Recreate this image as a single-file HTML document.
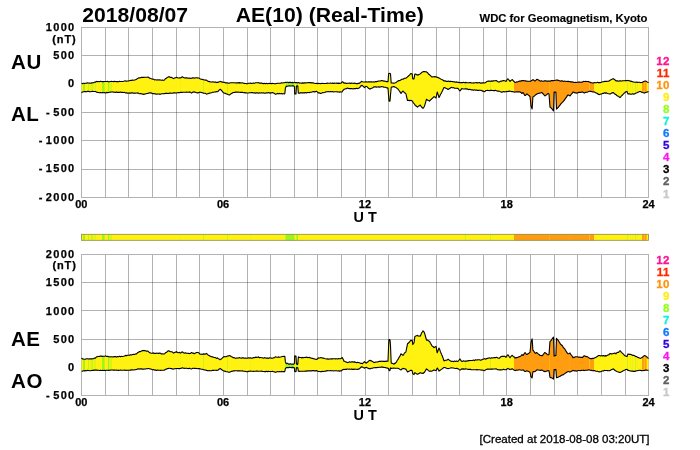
<!DOCTYPE html>
<html><head><meta charset="utf-8"><title>AE(10) (Real-Time) 2018/08/07</title>
<style>html,body{margin:0;padding:0;background:#fff}svg{display:block}</style></head>
<body>
<svg width="700" height="450" viewBox="0 0 700 450" font-family="'Liberation Sans', Arial, Helvetica, sans-serif" font-weight="bold">
<rect width="700" height="450" fill="#fff"/>
<defs>
<clipPath id="ct"><path d="M81.5,83.3 82.5,83.6 83.5,83.3 84,83.3 84.5,83.5 85.5,83.2 86.5,83.1 87.5,82.8 88,83 88.5,83 89.5,83.1 90.5,83.2 91.5,82.9 92,83 92.5,82.7 93.5,82.8 94.5,82.1 95,82.1 95.5,82.2 96.5,81.4 97,81.5 97.5,81.8 98,81.5 98.5,81.5 99.5,81.7 100.5,81.3 101.5,81.5 102.5,81.6 103.5,81.6 104.5,81.5 105,81.5 105.5,81.5 106,81.5 106.5,81.5 107.5,81.4 108.5,81.7 109.5,81.7 110,81.5 110.5,81.5 111.5,81.4 112.5,81.5 113,81.5 113.5,81.6 114.5,81.4 115.5,81.5 116.5,81.6 117.5,81.5 118.5,81.7 119.5,81.3 120,81.5 120.5,81.5 121.5,81.5 122,81.5 122.5,81.5 123.5,81.3 124.5,81 125.5,80.9 126.5,81.2 127.5,81 128.5,81 129,80.8 129.5,80.8 130,80.6 130.5,80.4 131.5,80.4 132.5,80 133.5,80.2 134.5,80 135.5,79.8 136,79.5 136.5,79.4 137.5,78.4 138.5,78 139,77.8 139.5,77.9 140.5,77.7 141.5,77.4 142.5,77.4 143,77.5 143.5,77.3 144,77.4 144.5,77.3 145.5,77.2 146.5,77.3 147.5,77.2 148,77 148.5,77.3 149.5,78.1 150,78.2 150.5,78.5 151.5,78.8 152.5,79.2 153.5,79.1 154.5,79.9 155,79.8 155.5,79.8 156.5,80 157,79.9 157.5,79.7 158.5,80 159.5,79.8 160.5,80 161.5,80.3 162.5,80.1 163.5,80.2 164,80.2 164.5,80 165,79.3 165.5,78.6 166,78.5 166.5,78.1 167.5,77.3 168.5,76.9 169,76.5 169.5,76.9 170.5,77.4 171.5,77.4 172.5,77.9 173.5,78.6 174.5,78 175.5,77.7 176,77.7 176.5,77.3 177.5,77.8 178.5,78 179.5,77.7 180,78 180.5,77.9 181.5,77.4 182,76.8 182.5,76.8 183.5,77.6 184.5,78 185.5,77.7 186.5,77.9 187.5,78.1 188.5,78.3 189.5,78 190,78.2 190.5,78.4 191.5,78.2 192.5,77.9 193.5,77.9 194,78.1 194.5,78.3 195.5,77.8 196.5,77.8 197.5,77.9 198,78 198.5,78 199.5,78.3 200,78.8 200.5,79 201.5,79.3 202,79.5 202.5,79.4 203.5,79.7 204.5,80 205.5,80.1 206.5,80.1 207,80.5 207.5,80.9 208.5,81.4 209.5,81.6 210,81.8 210.5,82 211.5,82 212,82 212.5,81.8 213.5,82 214.5,82.1 215.5,82.1 216.5,82.6 217.5,82.2 218,82.5 218.5,82 219.5,81.7 220,81.5 220.5,81.4 221.5,81.9 222.5,82.1 223.5,82.3 224,82.5 224.5,82.4 225.5,82.7 226,83 226.5,82.9 227.5,82.8 228.5,83.2 229.5,83.1 230.5,82.7 231.5,82.8 232.5,82.7 233,82.8 233.5,82.7 234.5,82.8 235.5,83 236.5,82.7 237.5,82.9 238,82.8 238.5,82.9 239.5,82.6 240.5,82.9 241.5,83 242,82.8 242.5,82.8 243.5,83.2 244.5,83.4 245.5,83.5 246,83.5 246.5,83.7 247.5,83.7 248.5,83.3 249.5,83.3 250.5,83 251.5,83.5 252.5,83.3 253.5,83.1 254.5,83.2 255.5,82.8 256.5,82.8 257.5,82.7 258,82.8 258.5,82.6 259.5,83.2 260,83 260.5,83.1 261.5,83 262.5,83.4 263.5,83.6 264,83.5 264.5,83.4 265.5,83.7 266.5,83.3 267.5,83.7 268.5,83.5 269.5,83.4 270.5,83.5 271.5,83.6 272.5,83.4 273,83.5 273.5,83.5 274.5,83.7 275.5,83.7 276,83.5 276.5,83.5 277.5,83.3 278,83.3 278.5,83.3 279.5,83.2 280.5,83.3 281.5,82.8 282.5,83 283.5,82.7 284,82.8 284.5,82.8 284.8,82.6 285,82.5 285.4,82.5 285.5,82.4 286.3,82.5 286.5,82.3 287.5,82.2 288.5,82.6 289.5,82.4 290.5,82.4 291.5,82.7 292.5,82.4 293.5,82.7 294.4,82.5 294.5,82.4 294.7,82.5 295,82.5 295.5,82.8 296,82.6 296.4,82.6 296.5,82.5 297.5,82.9 297.8,82.7 298.3,82.8 298.5,82.6 299.5,83.1 300.5,83 301,83 301.5,83.2 302.5,82.9 303.5,83.1 304.5,82.9 305.5,82.7 306,82.9 306.5,82.7 307.5,82.7 308.5,82.6 309.5,82.6 310,82.8 310.5,82.6 311.5,82.9 312.5,82.8 313.5,82.9 314.5,83.3 315.5,83.5 316.5,83.4 317,83.4 317.5,83.7 318,83.5 318.5,83.4 319.5,83.5 320.5,83.7 321,83.4 321.5,83.5 322.5,83.3 323.5,83.5 324.5,83.5 325.5,83.5 326.5,83.4 327.5,83 328,83.2 328.5,83.2 329.5,83.2 330,83.2 330.5,83.1 331.5,83.3 332.5,83.1 333.5,83.4 334.5,83 335.5,83.2 336,83.2 336.5,83 337.5,83.4 338.5,83.1 339.5,83.4 340.5,83.2 341,83.2 341.5,82.8 342,82.1 342.5,81.7 343.5,82.4 344,83.2 344.5,83 345.5,83.1 346.5,83.5 347,83.2 347.5,83.3 348.5,83.3 349.5,83 350,83.2 350.5,83.4 351.5,83.1 352.5,83.3 353,83.3 353.5,83.5 354.5,83.1 355.5,83.4 356.5,83.6 357.5,83.6 358.5,83.3 359,83.5 359.5,83 360.5,82.5 361,81.9 361.5,81.3 362.5,81.8 363.5,82 364.5,82 365,82 365.5,81.9 366,82 366.5,81.8 367.5,82 368.5,81.9 369.5,81.9 370,82 370.5,81.9 371.5,81.7 372.5,82 373.5,81.9 374,82 374.5,82.1 375.5,81.5 376.5,81.6 377.5,81.4 378.5,81 379.5,81 380.5,81 381.5,80.5 382,80.5 382.5,80.8 383,80.7 383.5,81.1 384.5,81.1 385.5,81.3 386.5,81.6 387.5,81.6 388,81.8 388.5,75.7 388.7,73.5 389,73.5 389.5,73.4 390,73.5 390.5,73.7 391.2,83 391.5,83 392.5,83 393.5,83.1 394,83.2 394.5,83 395.5,82.8 396.5,82.2 397.5,81.2 398,81.1 398.5,80.8 399,80.5 399.5,80.6 400.5,80.2 401,79.8 401.5,79.4 402.5,79.2 403,79.1 403.5,79 404.5,78.3 405.5,78.3 406,78 406.5,77.8 407.5,76.9 408.5,76 409.5,75.1 410.5,73.7 411,73.5 411.5,73.6 412,73.9 412.2,74 412.5,76.8 412.8,79 413.5,78.9 414,79 414.5,76.1 414.8,74 415,74.1 415.5,74.1 416.5,74.6 417.5,74.9 418,75.2 418.5,74.7 419.5,74.2 420,73.9 420.5,73.7 421.5,72.6 422.5,72 423,71.8 423.5,71.6 424.5,71.6 425.5,71.7 426.5,71.9 427.5,72.7 428.5,74 429.5,74.8 430.5,75.6 431.5,76.7 432,77 432.5,76.9 433.5,76.7 434,76.7 434.5,76.9 435,76.5 435.5,76.9 436,76.9 436.5,77.1 437.2,77.4 437.5,77.3 438.5,77.8 439,78.1 439.5,78.2 440,78.5 440.5,78.9 441.5,79.5 442.5,79.8 443.5,80.5 444,81 444.5,80.8 445.5,80.9 446.5,81.4 447.5,81.4 448,81.2 448.5,81.1 449.5,81.6 450.5,81.4 451,81.4 451.5,81.5 452,81.5 452.5,81.6 453.5,81.8 454.5,81.9 455.5,82.2 456.5,81.9 457.5,82.3 458,82.4 458.5,82.2 459,82.5 459.5,82.6 460,82.5 460.5,82.8 461.5,82.5 462,82.6 462.5,82.8 463.5,82.3 464.5,82.8 465.5,82.4 466.5,82.6 467.5,82.7 468.5,82.7 469,82.7 469.5,82.6 470.5,82.6 471.5,83 472.5,83 473.5,82.8 474.5,83 475,82.8 475.5,82.7 476.5,82.6 477.5,82.9 478.5,82.7 479.5,82.5 480.5,83.1 481.5,83.1 482,82.8 482.5,82.9 483.5,82.9 484.5,83 485,82.8 485.5,82.5 486,82.2 486.5,81.7 487,81.5 487.5,81.3 488.5,81.1 489.5,81.1 490.5,81.3 491.5,80.9 492.5,81.1 493.5,80.9 494.5,80.8 495.5,80.8 496,80.5 496.5,80.6 497.5,81.5 498.5,82 499,82 499.5,82 500.5,81.3 501.5,81 502,81.1 502.5,80.8 503.5,80.6 504,80.5 504.5,80.7 505.5,81 506,81.5 506.5,80.5 507.5,79.2 508,78.8 508.5,79.5 509.5,80.7 510,81.5 510.5,80.8 511.5,80.1 512,79.5 512.5,79.8 513.5,81 514,81.5 514.5,81.9 515,82.5 515.5,82.5 516.5,81.9 517.5,82 518.5,81.4 519.5,81 520,81.1 520.5,81.1 521.5,80.9 522,80.5 522.5,80.7 523,80.6 523.5,80.6 524.5,80.8 525,80.9 525.5,80.8 526,81 526.5,81.2 527,81.1 527.5,81.2 528.5,81.3 529.5,81.3 530,81.5 530.5,81.3 531,80.9 531.5,80.5 532.1,80.3 532.5,79.8 532.9,79.9 533,79.8 533.5,79.9 534.5,80.7 535,81 535.5,80.8 536.5,79.5 537,79.3 537.5,79.6 538.5,80.1 539.5,80.6 540,81 540.5,81.1 541.5,80.8 542,81 542.5,81.2 543.5,81.2 544.5,80.7 545,81 545.5,80.7 546.5,81.1 547.5,81.1 548,81 548.5,81.1 549,81 549.5,81.1 550,81 550.5,81.1 551.5,80.6 552.5,80.6 553.5,80.7 554,80.5 554.1,80.5 554.5,80.5 555.5,80.3 555.9,80.1 556.5,80 557.5,80.1 558.5,80.4 559.5,80.8 560,81 560.5,81.1 561.5,80.8 562.5,80.9 563.5,81.4 564,81.2 564.5,81.1 565.5,81.2 566.5,81.5 567.5,81.4 568,81.4 568.5,81.4 569.5,81.7 570,81.5 570.5,81.9 571.5,81.9 572.5,81.9 573,82.2 573.5,82.1 574,82.5 574.5,82.5 575.5,82.3 576,82.4 576.5,82.5 577.5,82.2 578.5,82.1 579.5,82 580.5,82.3 581,82.2 581.5,82.1 582,82 582.5,82.1 583.5,81.4 584,81.5 584.5,81.5 585.5,81.4 586.5,81.5 587.5,81.5 588,81.5 588.5,81.6 589.5,82.1 590,82.4 590.5,82.4 591,82.8 591.5,82.7 592.5,83 593.5,82.9 594,82.7 594.5,82.5 595.5,82.8 596.5,82.7 597.5,82.3 598.5,82.6 599,82.5 599.5,82.7 600,82.5 600.5,82.6 601.5,82.2 602,82 602.5,81.8 603.5,81.7 604.5,81.4 605,81.6 605.5,81.3 606.5,81.4 607.5,81.2 608.5,81.2 609,81 609.5,80.5 610,80.4 610.5,79.9 611.5,79.5 612.5,79.1 613,78.8 613.5,78.8 614.5,79.5 615.5,80.4 616,81 616.5,80.8 617.5,80.9 618.5,81.2 619.5,80.9 620,81 620.5,80.8 621.5,81 622,81 622.5,80.8 623.5,80.8 624.5,80.8 625,80.8 625.5,80.5 626.5,80.6 627,80.6 627.5,80.4 628,80.5 628.5,80.5 629.5,80.9 630.5,81.1 631.5,81.4 632.5,81.7 633.5,82 634,82 634.5,82.2 635.5,82.3 636.5,82.1 637.5,82.4 638.5,82.3 639.5,82.2 640,82.4 640.5,82.6 641.5,82.5 642,82.5 642.5,82.3 643.5,81.5 644,81.5 644.5,81.3 645,81 645.5,81 646.5,81.4 647.5,82.1 648.5,82.7 L648.5,91.5 647.5,91.9 646.5,92.2 645.5,92.5 645,92.7 644.5,93.1 644,93 643.5,92.8 642.5,92.5 642,92.2 641.5,92.1 640.5,91.6 640,91.5 639.5,91.5 638.5,92.1 637.5,92.5 636.5,93 635.5,93.2 634.5,94 634,94 633.5,94.1 632.5,93.8 631.5,94.2 630.5,94.2 629.5,93.9 628.5,93.8 628,94 627.5,92.8 627,91.5 626.5,91.6 625.5,92 625,92.5 624.5,92.9 623.5,93.9 622.5,95 622,95.5 621.5,95.8 620.5,97.2 620,97.5 619.5,97.3 618.5,96.2 617.5,96 616.5,95.3 616,94.6 615.5,94.5 614.5,93.8 613.5,92.7 613,92.5 612.5,92.9 611.5,93.1 610.5,93.9 610,94 609.5,94 609,93.8 608.5,93.8 607.5,93.4 606.5,92.9 605.5,93.2 605,92.8 604.5,92.8 603.5,93.5 602.5,93.4 602,93.7 601.5,93.9 600.5,94.2 600,94.2 599.5,94.6 599,94.5 598.5,94.5 597.5,93.5 596.5,93.1 595.5,92.8 594.5,92 594,92 593.5,91.8 592.5,92 591.5,91.5 591,91.4 590.5,91.5 590,91.2 589.5,91.2 588.5,91.6 588,91.9 587.5,92.1 586.5,92.3 585.5,92.4 584.5,93.1 584,92.8 583.5,92.7 582.5,91.9 582,92 581.5,92.3 581,92.2 580.5,92.4 579.5,92.4 578.5,92.4 577.5,92.9 576.5,93.1 576,93 575.5,92.9 574.5,92.7 574,92.3 573.5,92.3 573,92 572.5,92.9 571.5,94 570.5,95.3 570,96 569.5,95.6 568.5,95 568,95 567.5,95.4 566.5,97.1 565.5,98.4 564.5,100 564,100.5 563.5,101.2 562.5,102.3 561.5,103.2 560.5,104.4 560,105.2 559.5,105.6 558.5,107.1 557.5,108.1 556.5,109.1 555.9,92 555.5,92.2 554.5,92 554.1,92 554,95.2 553.5,111 552.5,109.6 551.5,108.2 550.5,107.5 550,107 549.5,100.4 549,94 548.5,93.7 548,93.5 547.5,93.9 546.5,94.9 545.5,95.3 545,96 544.5,95.4 543.5,94.4 542.5,93.1 542,92.5 541.5,92.6 540.5,93 540,93 539.5,93.3 538.5,93.4 537.5,93.7 537,93.8 536.5,94.4 535.5,94.8 535,95.4 534.5,96 533.5,96.6 533,96.9 532.9,97 532.5,103.2 532.1,109 531.5,107.3 531,106 530.5,101 530,96.5 529.5,96 528.5,95.1 527.5,94.5 527,94 526.5,94.1 526,94.8 525.5,95.4 525,95.5 524.5,95 523.5,93.1 523,92.5 522.5,92.9 522,93.5 521.5,93 520.5,92.3 520,92 519.5,91.8 518.5,91.9 517.5,91.9 516.5,91.7 515.5,92 515,92 514.5,92.2 514,92 513.5,91.7 512.5,91.5 512,91.6 511.5,91.6 510.5,91.2 510,91.2 509.5,91.1 508.5,91.4 508,91.4 507.5,91.6 506.5,91.4 506,91.6 505.5,91.7 504.5,91.9 504,91.8 503.5,91.6 502.5,92.1 502,92 501.5,92.1 500.5,91.8 499.5,91.2 499,91.2 498.5,91.1 497.5,91.1 496.5,90.8 496,90.5 495.5,90.4 494.5,90.6 493.5,90.6 492.5,90.5 491.5,90.4 490.5,90.4 489.5,90.7 488.5,90.5 487.5,90.3 487,90.5 486.5,90.5 486,90.5 485.5,90.8 485,91.5 484.5,91.8 483.5,91.1 482.5,91.1 482,90.5 481.5,90.6 480.5,90.3 479.5,90.2 478.5,90.4 477.5,90.4 476.5,90 475.5,90.3 475,90.1 474.5,89.8 473.5,90.2 472.5,89.9 471.5,89.9 470.5,89.5 469.5,89.4 469,89.5 468.5,89.6 467.5,89.1 466.5,88.9 465.5,88.8 464.5,89 463.5,89 462.5,88.8 462,88.5 461.5,88.9 460.5,90.4 460,91 459.5,90.4 459,89.8 458.5,88.9 458,88.5 457.5,88.4 456.5,88.3 455.5,88.2 454.5,88.2 453.5,87.6 452.5,87.7 452,87.6 451.5,87.4 451,87.5 450.5,88 449.5,88.5 448.5,89.3 448,89.5 447.5,89 446.5,88.6 445.5,88 444.5,87.6 444,87.5 443.5,88.5 442.5,90.7 441.5,92.7 440.5,94.5 440,95.5 439.5,96.7 439,97.5 438.5,95.9 437.5,92.7 437.2,92 436.5,95.7 436,98 435.5,97.5 435,97.2 434.5,96.9 434,96.5 433.5,97.1 432.5,98.2 432,98.5 431.5,99.2 430.5,99.9 429.5,101.1 428.5,100.6 427.5,100 426.5,99.2 425.5,102.6 424.5,106.2 423.5,107.8 423,108.5 422.5,107.8 421.5,107 420.5,105.5 420,105 419.5,105.7 418.5,106.1 418,106.6 417.5,107.1 416.5,106.3 415.5,105.5 415,105 414.8,104.7 414.5,104 414,103.6 413.5,103 412.8,101.8 412.5,101.7 412.2,101 412,100.7 411.5,100.4 411,100.6 410.5,100.4 409.5,100.6 408.5,100.4 407.5,100.5 406.5,96.3 406,94 405.5,93.3 404.5,92.7 403.5,91.7 403,91 402.5,91.7 401.5,92.7 401,93.5 400.5,92.6 399.5,91.1 399,90.5 398.5,89.7 398,89 397.5,88.8 396.5,87.9 395.5,87.2 394.5,87 394,86.5 393.5,86.5 392.5,87 391.5,87.1 391.2,87.5 390.5,95.3 390,101 389.5,101.3 389,101 388.7,97.1 388.5,94.6 388,88 387.5,87.9 386.5,87.9 385.5,87.3 384.5,87.3 383.5,87.1 383,86.8 382.5,86.8 382,86.8 381.5,86.6 380.5,87 379.5,87.1 378.5,86.9 377.5,87 376.5,87.1 375.5,86.9 374.5,86.9 374,87 373.5,87.1 372.5,88 371.5,88.3 370.5,88.7 370,89.2 369.5,88.9 368.5,88.3 367.5,87.1 366.5,86.4 366,86.2 365.5,86.7 365,87.1 364.5,87.7 363.5,86.6 362.5,85.6 361.5,85.4 361,85.8 360.5,86.6 359.5,87.7 359,88.2 358.5,88.2 357.5,88.6 356.5,88.3 355.5,88.6 354.5,88.6 353.5,88.7 353,89 352.5,88.8 351.5,88.6 350.5,88.5 350,88.7 349.5,88.6 348.5,88.5 347.5,88.1 347,88.3 346.5,88.7 345.5,88.7 344.5,89.2 344,89.3 343.5,89.8 342.5,91.1 342,92 341.5,92 341,92 340.5,91.8 339.5,92.1 338.5,92 337.5,91.9 336.5,91.8 336,91.8 335.5,91.7 334.5,91.8 333.5,92 332.5,91.6 331.5,91.8 330.5,91.5 330,91.6 329.5,91.7 328.5,91.6 328,91.5 327.5,91.7 326.5,91.8 325.5,92.1 324.5,92.5 323.5,92.8 322.5,92.6 321.5,93.2 321,93.2 320.5,93.4 319.5,92.9 318.5,93 318,92.5 317.5,92.1 317,91.5 316.5,91.3 315.5,91.6 314.5,91.9 313.5,91.6 312.5,91.8 311.5,92.2 310.5,92.2 310,92.3 309.5,92.6 308.5,92.5 307.5,92.5 306.5,93 306,92.8 305.5,92.6 304.5,92.9 303.5,92.8 302.5,92.9 301.5,92.7 301,92.9 300.5,92.9 299.5,93.1 298.5,93.1 298.3,93 297.8,86 297.5,85.8 296.5,86.2 296.4,86 296,94 295.5,93.8 295,94 294.7,94 294.5,88.8 294.4,86.5 293.5,85.9 292.5,85.7 291.5,86 290.5,86 289.5,85.8 288.5,86 287.5,86.3 286.5,86.4 286.3,86.2 285.5,87.7 285.4,88 285,91.9 284.8,93.8 284.5,93.9 284,93.8 283.5,93.7 282.5,93.9 281.5,93.5 280.5,93.8 279.5,93.4 278.5,93.8 278,93.5 277.5,93.4 276.5,93.9 276,94.1 275.5,94.4 274.5,93.6 273.5,93.1 273,92.8 272.5,92.5 271.5,92.9 270.5,92.9 269.5,93.1 268.5,92.6 267.5,93 266.5,92.7 265.5,93.1 264.5,93.2 264,92.9 263.5,92.8 262.5,93 261.5,92.7 260.5,93 260,93 259.5,92.8 258.5,93.3 258,93 257.5,92.9 256.5,92.8 255.5,93.1 254.5,92.9 253.5,93 252.5,92.6 251.5,92.6 250.5,92.7 249.5,92.7 248.5,93 247.5,93 246.5,93 246,92.8 245.5,92.9 244.5,92.6 243.5,92.7 242.5,92.3 242,92.4 241.5,92.3 240.5,92.4 239.5,92.3 238.5,92.3 238,92 237.5,92.3 236.5,92.1 235.5,92 234.5,92.4 233.5,92.5 233,92.5 232.5,93.1 231.5,93.5 230.5,94.1 229.5,95 228.5,94.7 227.5,94.2 226.5,93.9 226,93.7 225.5,93.4 224.5,93.2 224,93 223.5,92.8 222.5,91.6 221.5,90.4 220.5,89.5 220,89.2 219.5,89.9 218.5,90.7 218,91.5 217.5,91.7 216.5,91.6 215.5,91.9 214.5,92 213.5,92.2 212.5,92.2 212,92.5 211.5,92.8 210.5,93 210,93.1 209.5,93.1 208.5,93.6 207.5,93.7 207,94 206.5,94.1 205.5,93.4 204.5,93.3 203.5,93.2 202.5,92.7 202,92.6 201.5,92.5 200.5,92.3 200,92 199.5,92.3 198.5,92.6 198,93 197.5,92.9 196.5,92.7 195.5,92.2 194.5,92.1 194,91.8 193.5,92.1 192.5,92.3 191.5,93.1 190.5,92.4 190,92 189.5,91.9 188.5,92.3 187.5,92.3 186.5,92 185.5,92.3 184.5,92.2 183.5,92.3 182.5,92.2 182,92.5 181.5,92.4 180.5,92.3 180,92.6 179.5,92.8 178.5,92.6 177.5,92.7 176.5,93 176,92.8 175.5,93 174.5,92.9 173.5,92.9 172.5,93.2 171.5,93.2 170.5,93 169.5,93.1 169,93.2 168.5,93.5 167.5,93.4 166.5,93.2 166,93.4 165.5,93.3 165,93.5 164.5,93.6 164,93.6 163.5,93.7 162.5,93.7 161.5,93.7 160.5,94.2 159.5,94.1 158.5,94 157.5,94 157,94.2 156.5,94.1 155.5,93.8 155,93.9 154.5,93.8 153.5,93.6 152.5,93.6 151.5,93.1 150.5,92.9 150,93 149.5,92.8 148.5,93.1 148,93.4 147.5,93.5 146.5,93.5 145.5,94 144.5,94.1 144,94.2 143.5,94.4 143,94 142.5,94.2 141.5,93.8 140.5,93.5 139.5,93.7 139,93.5 138.5,93.1 137.5,93.1 136.5,93 136,93 135.5,93.2 134.5,93 133.5,93.2 132.5,92.9 131.5,92.9 130.5,93.1 130,93 129.5,93.2 129,92.9 128.5,93.1 127.5,93.1 126.5,92.9 125.5,93 124.5,92.4 123.5,92.5 122.5,92.4 122,92.4 121.5,92.5 120.5,92.1 120,92.3 119.5,92.4 118.5,92.4 117.5,92.4 116.5,91.9 115.5,92.4 114.5,92.2 113.5,92 113,92.1 112.5,91.9 111.5,92 110.5,92.3 110,92 109.5,92.3 108.5,92.5 107.5,92.6 106.5,92.4 106,92.8 105.5,93 105,92.8 104.5,92.6 103.5,92.8 102.5,92.6 101.5,92.8 100.5,92.6 99.5,92.8 98.5,92.5 98,92.5 97.5,92.4 97,92.2 96.5,92.1 95.5,91.5 95,91.5 94.5,91.5 93.5,91.5 92.5,91.3 92,91.5 91.5,91.5 90.5,91.7 89.5,91.6 88.5,91.4 88,91.5 87.5,91.4 86.5,91.7 85.5,91.5 84.5,91.7 84,91.5 83.5,91.7 82.5,92 81.5,92.7Z"/></clipPath>
<clipPath id="cb"><path d="M81.5,358 82.5,359 83.5,359 84,359.2 84.5,359.2 85.5,359.1 86.5,358.8 87.5,358.8 88,358.9 88.5,359 89.5,358.9 90.5,358.9 91.5,358.9 92,358.9 92.5,358.8 93.5,358.7 94.5,358 95,358 95.5,358.1 96.5,356.7 97,356.8 97.5,356.8 98,356.4 98.5,356.5 99.5,356.4 100.5,356.1 101.5,356.1 102.5,356.4 103.5,356.2 104.5,356.3 105,356.2 105.5,355.9 106,356.1 106.5,356.5 107.5,356.3 108.5,356.6 109.5,356.8 110,356.9 110.5,356.7 111.5,356.8 112.5,357 113,356.8 113.5,357 114.5,356.6 115.5,356.5 116.5,357.1 117.5,356.5 118.5,356.7 119.5,356.3 120,356.6 120.5,356.8 121.5,356.3 122,356.5 122.5,356.5 123.5,356.3 124.5,356 125.5,355.4 126.5,355.6 127.5,355.3 128.5,355.3 129,355.3 129.5,355.1 130,355 130.5,354.7 131.5,355 132.5,354.5 133.5,354.4 134.5,354.5 135.5,354 136,353.9 136.5,353.9 137.5,352.8 138.5,352.3 139,351.8 139.5,351.6 140.5,351.6 141.5,351 142.5,350.6 143,350.9 143.5,350.4 144,350.6 144.5,350.6 145.5,350.7 146.5,351.3 147.5,351.1 148,351 148.5,351.6 149.5,352.6 150,352.6 150.5,353 151.5,353.2 152.5,353.1 153.5,352.9 154.5,353.5 155,353.4 155.5,353.4 156.5,353.3 157,353.1 157.5,353.2 158.5,353.4 159.5,353.1 160.5,353.2 161.5,354 162.5,353.9 163.5,354 164,354 164.5,353.8 165,353.3 165.5,352.7 166,352.5 166.5,352.4 167.5,351.3 168.5,350.7 169,350.7 169.5,351.3 170.5,351.8 171.5,351.7 172.5,352.1 173.5,353.1 174.5,352.5 175.5,352.1 176,352.3 176.5,351.7 177.5,352.5 178.5,352.8 179.5,352.3 180,352.9 180.5,352.9 181.5,352.4 182,351.8 182.5,352 183.5,352.7 184.5,353.3 185.5,352.8 186.5,353.3 187.5,353.3 188.5,353.4 189.5,353.5 190,353.6 190.5,353.4 191.5,352.5 192.5,353.1 193.5,353.1 194,353.7 194.5,353.6 195.5,353 196.5,352.5 197.5,352.5 198,352.4 198.5,352.8 199.5,353.4 200,354.2 200.5,354.2 201.5,354.1 202,354.4 202.5,354.2 203.5,353.9 204.5,354.1 205.5,354.1 206.5,353.4 207,353.9 207.5,354.6 208.5,355.2 209.5,355.8 210,356.1 210.5,356.4 211.5,356.6 212,356.9 212.5,356.9 213.5,357.2 214.5,357.5 215.5,357.6 216.5,358.4 217.5,357.9 218,358.4 218.5,358.8 219.5,359.2 220,359.7 220.5,359.3 221.5,358.9 222.5,357.9 223.5,356.9 224,356.9 224.5,356.6 225.5,356.7 226,356.7 226.5,356.4 227.5,356 228.5,355.9 229.5,355.5 230.5,356 231.5,356.7 232.5,357 233,357.7 233.5,357.6 234.5,357.8 235.5,358.4 236.5,358 237.5,358 238,358.2 238.5,358 239.5,357.6 240.5,358 241.5,358.2 242,357.8 242.5,357.9 243.5,357.9 244.5,358.2 245.5,358 246,358.1 246.5,358.2 247.5,358.1 248.5,357.8 249.5,358.1 250.5,357.7 251.5,358.2 252.5,358.1 253.5,357.5 254.5,357.7 255.5,357.1 256.5,357.4 257.5,357.2 258,357.2 258.5,356.8 259.5,357.8 260,357.5 260.5,357.5 261.5,357.7 262.5,357.8 263.5,358.2 264,358 264.5,357.6 265.5,358 266.5,358.1 267.5,358.1 268.5,358.4 269.5,357.7 270.5,358 271.5,358.1 272.5,358.2 273,358.1 273.5,357.8 274.5,357.6 275.5,356.7 276,356.9 276.5,357.1 277.5,357.3 278,357.2 278.5,356.9 279.5,357.2 280.5,357 281.5,356.7 282.5,356.5 283.5,356.4 284,356.5 284.5,356.3 284.8,356.2 285,358 285.4,361.9 285.5,362.2 286.3,363.7 286.5,363.3 287.5,363.3 288.5,364.1 289.5,364.1 290.5,363.8 291.5,364.2 292.5,364.1 293.5,364.3 294.4,363.4 294.5,361 294.7,355.9 295,355.9 295.5,356.4 296,356 296.4,364 296.5,363.8 297.5,364.5 297.8,364.1 298.3,357.2 298.5,356.9 299.5,357.4 300.5,357.5 301,357.5 301.5,357.9 302.5,357.4 303.5,357.7 304.5,357.5 305.5,357.4 306,357.5 306.5,357.1 307.5,357.6 308.5,357.5 309.5,357.4 310,357.9 310.5,357.8 311.5,358.2 312.5,358.4 313.5,358.7 314.5,358.9 315.5,359.3 316.5,359.4 317,359.3 317.5,359 318,358.4 318.5,357.8 319.5,358 320.5,357.7 321,357.6 321.5,357.7 322.5,358.1 323.5,358.1 324.5,358.5 325.5,358.8 326.5,359 327.5,358.8 328,359.2 328.5,359.1 329.5,359 330,359 330.5,358.9 331.5,358.9 332.5,358.9 333.5,358.8 334.5,358.7 335.5,358.9 336,358.8 336.5,358.7 337.5,359 338.5,358.6 339.5,358.7 340.5,358.8 341,358.6 341.5,358.2 342,357.5 342.5,358 343.5,360 344,361.3 344.5,361.2 345.5,361.8 346.5,362.1 347,362.3 347.5,362.6 348.5,362.3 349.5,361.8 350,362 350.5,362.3 351.5,361.9 352.5,361.9 353,361.7 353.5,362.1 354.5,361.9 355.5,362.2 356.5,362.7 357.5,362.4 358.5,362.5 359,362.7 359.5,362.7 360.5,363.3 361,363.5 361.5,363.3 362.5,363.6 363.5,362.7 364.5,361.7 365,362.3 365.5,362.6 366,363.2 366.5,362.8 367.5,362.3 368.5,361.1 369.5,360.5 370,360.2 370.5,360.6 371.5,360.9 372.5,361.4 373.5,362.2 374,362.4 374.5,362.6 375.5,362.1 376.5,362 377.5,361.9 378.5,361.6 379.5,361.2 380.5,361.4 381.5,361.3 382,361.1 382.5,361.4 383,361.3 383.5,361.4 384.5,361.2 385.5,361.4 386.5,361.1 387.5,361.2 388,361.2 388.5,348.6 388.7,343.8 389,339.9 389.5,339.5 390,339.9 390.5,345.8 391.2,362.9 391.5,363.3 392.5,363.4 393.5,364 394,364.1 394.5,363.4 395.5,363.1 396.5,361.8 397.5,359.9 398,359.5 398.5,358.5 399,357.4 399.5,356.9 400.5,355.1 401,353.7 401.5,354.2 402.5,354.9 403,355.5 403.5,354.7 404.5,353 405.5,352.4 406,351.4 406.5,348.9 407.5,343.8 408.5,343 409.5,342 410.5,340.7 411,340.3 411.5,340.6 412,340.7 412.2,340.5 412.5,342.5 412.8,344.6 413.5,343.3 414,342.9 414.5,339.5 414.8,336.7 415,336.5 415.5,336.1 416.5,335.7 417.5,335.2 418,336.1 418.5,336 419.5,336 420,336.3 420.5,335.7 421.5,333.1 422.5,331.7 423,330.8 423.5,331.3 424.5,332.9 425.5,336.5 426.5,340.1 427.5,340.1 428.5,340.9 429.5,341.2 430.5,343.2 431.5,344.9 432,345.9 432.5,346.2 433.5,347 434,347.6 434.5,347.4 435,346.7 435.5,346.8 436,346.3 436.5,348.9 437.2,352.8 437.5,352 438.5,349.4 439,348 439.5,348.9 440,350.4 440.5,351.9 441.5,354.3 442.5,356.5 443.5,359.4 444,360.9 444.5,360.6 445.5,360.3 446.5,360.3 447.5,359.8 448,359.2 448.5,359.3 449.5,360.5 450.5,360.8 451,361.3 451.5,361.5 452,361.3 452.5,361.3 453.5,361.6 454.5,361 455.5,361.4 456.5,361 457.5,361.4 458,361.3 458.5,360.8 459,360.2 459.5,359.5 460,358.9 460.5,359.8 461.5,361.1 462,361.5 462.5,361.4 463.5,360.8 464.5,361.2 465.5,361.1 466.5,361.1 467.5,360.9 468.5,360.5 469,360.6 469.5,360.6 470.5,360.5 471.5,360.5 472.5,360.5 473.5,360.1 474.5,360.6 475,360.1 475.5,359.8 476.5,360 477.5,359.9 478.5,359.8 479.5,359.7 480.5,360.2 481.5,359.9 482,359.7 482.5,359.2 483.5,359.2 484.5,358.6 485,358.7 485.5,359.2 486,359.1 486.5,358.6 487,358.4 487.5,358.4 488.5,358 489.5,357.9 490.5,358.3 491.5,357.8 492.5,358 493.5,357.7 494.5,357.5 495.5,357.8 496,357.4 496.5,357.2 497.5,357.8 498.5,358.3 499,358.2 499.5,358.2 500.5,356.9 501.5,356.4 502,356.5 502.5,356.2 503.5,356.4 504,356.1 504.5,356.3 505.5,356.8 506,357.3 506.5,356.6 507.5,355 508,354.8 508.5,355.5 509.5,357 510,357.7 510.5,357 511.5,355.9 512,355.3 512.5,355.7 513.5,356.7 514,356.9 514.5,357.1 515,357.9 515.5,357.9 516.5,357.6 517.5,357.5 518.5,357 519.5,356.6 520,356.5 520.5,356.2 521.5,355.3 522,354.4 522.5,355.3 523,355.5 523.5,354.9 524.5,353.2 525,352.8 525.5,352.8 526,353.7 526.5,354.5 527,354.5 527.5,354.1 528.5,353.6 529.5,352.7 530,352.4 530.5,347.8 531,342.4 531.5,340.6 532.1,338.8 532.5,344.1 532.9,350.3 533,350.3 533.5,350.7 534.5,352.2 535,353.1 535.5,353.4 536.5,352.5 537,352.9 537.5,353.3 538.5,354.1 539.5,354.7 540,355.4 540.5,355.5 541.5,355.5 542,355.9 542.5,355.5 543.5,354.2 544.5,352.7 545,352.4 545.5,352.9 546.5,353.7 547.5,354.6 548,354.9 548.5,354.8 549,354.4 549.5,348.1 550,341.4 550.5,341.1 551.5,339.8 552.5,338.4 553.5,337.1 554,352.8 554.1,355.9 554.5,355.9 555.5,355.5 555.9,355.5 556.5,338.3 557.5,339.5 558.5,340.8 559.5,342.6 560,343.2 560.5,344.2 561.5,345 562.5,346 563.5,347.7 564,348.1 564.5,348.5 565.5,350.2 566.5,351.9 567.5,353.4 568,353.8 568.5,353.8 569.5,353.5 570,352.9 570.5,354 571.5,355.3 572.5,356.5 573,357.7 573.5,357.3 574,357.6 574.5,357.3 575.5,356.8 576,356.8 576.5,356.8 577.5,356.7 578.5,357.2 579.5,357 580.5,357.3 581,357.5 581.5,357.2 582,357.4 582.5,357.6 583.5,356.1 584,356.1 584.5,355.8 585.5,356.4 586.5,356.6 587.5,356.8 588,357.1 588.5,357.4 589.5,358.3 590,358.6 590.5,358.4 591,358.8 591.5,358.6 592.5,358.4 593.5,358.5 594,358.1 594.5,357.9 595.5,357.4 596.5,357 597.5,356.3 598.5,355.6 599,355.5 599.5,355.5 600,355.7 600.5,355.9 601.5,355.8 602,355.8 602.5,355.9 603.5,355.6 604.5,356 605,356.2 605.5,355.6 606.5,355.9 607.5,355.3 608.5,354.8 609,354.7 609.5,353.9 610,353.9 610.5,353.5 611.5,353.9 612.5,353.7 613,353.7 613.5,353.5 614.5,353.1 615.5,353.3 616,353.8 616.5,353 617.5,352.4 618.5,352.5 619.5,351 620,350.9 620.5,351 621.5,352.6 622,352.9 622.5,353.2 623.5,354.3 624.5,355.3 625,355.7 625.5,356 626.5,356.4 627,356.5 627.5,355.1 628,353.9 628.5,354.1 629.5,354.4 630.5,354.4 631.5,354.7 632.5,355.4 633.5,355.4 634,355.4 634.5,355.6 635.5,356.5 636.5,356.5 637.5,357.3 638.5,357.6 639.5,358.1 640,358.3 640.5,358.4 641.5,357.8 642,357.7 642.5,357.2 643.5,356.1 644,355.9 644.5,355.6 645,355.8 645.5,355.9 646.5,356.6 647.5,357.7 648.5,358.6 L648.5,370.4 647.5,370.3 646.5,370.1 645.5,370.1 645,370.1 644.5,370.5 644,370.5 643.5,370.5 642.5,370.7 642,370.7 641.5,370.6 640.5,370.4 640,370.2 639.5,370.2 638.5,370.5 637.5,370.8 636.5,370.8 635.5,371.1 634.5,371.4 634,371.3 633.5,371.4 632.5,371.1 631.5,371.1 630.5,371 629.5,370.7 628.5,370.4 628,370.5 627.5,369.9 627,369.3 626.5,369.4 625.5,369.5 625,369.9 624.5,370.2 623.5,370.6 622.5,371.2 622,371.5 621.5,371.7 620.5,372.3 620,372.5 619.5,372.4 618.5,372 617.5,371.7 616.5,371.3 616,371.1 615.5,370.8 614.5,370 613.5,369 613,368.9 612.5,369.3 611.5,369.6 610.5,370.2 610,370.5 609.5,370.6 609,370.7 608.5,370.8 607.5,370.6 606.5,370.5 605.5,370.5 605,370.5 604.5,370.4 603.5,370.9 602.5,370.9 602,371.1 601.5,371.4 600.5,371.7 600,371.7 599.5,371.9 599,371.8 598.5,371.8 597.5,371.2 596.5,371.2 595.5,371.1 594.5,370.6 594,370.6 593.5,370.6 592.5,370.8 591.5,370.4 591,370.4 590.5,370.2 590,370.1 589.5,369.9 588.5,369.9 588,370 587.5,370.1 586.5,370.2 585.5,370.2 584.5,370.6 584,370.4 583.5,370.4 582.5,370.3 582,370.3 581.5,370.5 581,370.5 580.5,370.6 579.5,370.5 578.5,370.5 577.5,370.8 576.5,371.1 576,371 575.5,370.9 574.5,370.9 574,370.7 573.5,370.5 573,370.4 572.5,370.7 571.5,371.3 570.5,371.9 570,372 569.5,371.9 568.5,371.5 568,371.5 567.5,371.7 566.5,372.6 565.5,373.1 564.5,373.8 564,374.1 563.5,374.6 562.5,374.9 561.5,375.3 560.5,376 560,376.4 559.5,376.5 558.5,377 557.5,377.4 556.5,377.8 555.9,369.4 555.5,369.6 554.5,369.6 554.1,369.5 554,371.1 553.5,379.1 552.5,378.4 551.5,377.7 550.5,377.6 550,377.3 549.5,374 549,370.8 548.5,370.7 548,370.5 547.5,370.7 546.5,371.3 545.5,371.3 545,371.8 544.5,371.4 543.5,371.1 542.5,370.4 542,370 541.5,370 540.5,370.4 540,370.3 539.5,370.3 538.5,370 537.5,369.9 537,369.8 536.5,370.3 535.5,371.1 535,371.5 534.5,371.6 533.5,371.6 533,371.7 532.9,371.7 532.5,374.8 532.1,377.9 531.5,377.2 531,376.8 530.5,374.5 530,372.3 529.5,371.9 528.5,371.5 527.5,371.1 527,370.9 526.5,370.9 526,371.2 525.5,371.4 525,371.5 524.5,371.2 523.5,370.1 523,369.9 522.5,370.1 522,370.3 521.5,370.2 520.5,370 520,369.8 519.5,369.7 518.5,370 517.5,370.3 516.5,370.1 515.5,370.6 515,370.5 514.5,370.3 514,370 513.5,369.7 512.5,368.9 512,368.8 511.5,369.2 510.5,369.3 510,369.6 509.5,369.2 508.5,368.7 508,368.4 507.5,368.7 506.5,369.3 506,369.8 505.5,369.7 504.5,369.6 504,369.4 503.5,369.4 502.5,369.7 502,369.8 501.5,369.9 500.5,369.8 499.5,369.9 499,369.9 498.5,369.8 497.5,369.6 496.5,369 496,368.8 495.5,368.9 494.5,369 493.5,369 492.5,369.1 491.5,369 490.5,369.1 489.5,369.2 488.5,369.1 487.5,369.1 487,369.3 486.5,369.4 486,369.6 485.5,369.9 485,370.4 484.5,370.7 483.5,370.3 482.5,370.3 482,369.9 481.5,370.1 480.5,370 479.5,369.7 478.5,369.8 477.5,369.9 476.5,369.6 475.5,369.8 475,369.7 474.5,369.7 473.5,369.8 472.5,369.7 471.5,369.7 470.5,369.4 469.5,369.3 469,369.4 468.5,369.4 467.5,369.2 466.5,369 465.5,368.9 464.5,369.2 463.5,368.9 462.5,369.1 462,368.8 461.5,369 460.5,369.9 460,370.1 459.5,369.8 459,369.4 458.5,368.9 458,368.7 457.5,368.6 456.5,368.4 455.5,368.5 454.5,368.3 453.5,368 452.5,368 452,367.9 451.5,367.7 451,367.8 450.5,368 449.5,368.3 448.5,368.5 448,368.7 447.5,368.5 446.5,368.3 445.5,367.7 444.5,367.5 444,367.5 443.5,367.8 442.5,368.6 441.5,369.4 440.5,370 440,370.3 439.5,370.7 439,371.1 438.5,370.1 437.5,368.3 437.2,368 436.5,369.7 436,370.7 435.5,370.5 435,370.2 434.5,370.2 434,369.9 433.5,370.2 432.5,370.9 432,371 431.5,371.2 430.5,371 429.5,371.3 428.5,370.6 427.5,369.7 426.5,368.9 425.5,370.5 424.5,372.2 423.5,373 423,373.5 422.5,373.2 421.5,373.1 420.5,372.9 420,372.7 419.5,373.2 418.5,373.7 418,374.2 417.5,374.3 416.5,373.7 415.5,373.1 415,372.8 414.8,372.6 414.5,373.4 414,374.6 413.5,374.3 412.8,373.7 412.5,372.5 412.2,370.8 412,370.6 411.5,370.3 411,370.4 410.5,370.4 409.5,371.1 408.5,371.5 407.5,372 406.5,370.3 406,369.3 405.5,369.1 404.5,368.8 403.5,368.6 403,368.3 402.5,368.8 401.5,369.3 401,369.9 400.5,369.7 399.5,369.1 399,368.8 398.5,368.6 398,368.3 397.5,368.3 396.5,368.3 395.5,368.3 394.5,368.3 394,368.1 393.5,368.1 392.5,368.3 391.5,368.4 391.2,368.5 390.5,367.8 390,370.5 389.5,370.6 389,370.5 388.7,368.6 388.5,368.5 388,368.2 387.5,368.1 386.5,368 385.5,367.6 384.5,367.5 383.5,367.4 383,367.1 382.5,367.1 382,367 381.5,366.9 380.5,367.3 379.5,367.3 378.5,367.3 377.5,367.5 376.5,367.6 375.5,367.5 374.5,367.8 374,367.8 373.5,367.8 372.5,368.3 371.5,368.3 370.5,368.6 370,368.9 369.5,368.7 368.5,368.4 367.5,367.9 366.5,367.4 366,367.4 365.5,367.6 365,367.8 364.5,368.2 363.5,367.6 362.5,367 361.5,366.7 361,367.2 360.5,367.8 359.5,368.6 359,369.1 358.5,369 357.5,369.4 356.5,369.2 355.5,369.3 354.5,369.1 353.5,369.4 353,369.4 352.5,369.4 351.5,369.1 350.5,369.3 350,369.2 349.5,369.1 348.5,369.2 347.5,369 347,369 346.5,369.4 345.5,369.2 344.5,369.4 344,369.6 343.5,369.4 342.5,369.7 342,370.3 341.5,370.7 341,370.9 340.5,370.8 339.5,371.1 338.5,370.8 337.5,371 336.5,370.7 336,370.8 335.5,370.7 334.5,370.7 333.5,371 332.5,370.7 331.5,370.8 330.5,370.6 330,370.7 329.5,370.7 328.5,370.7 328,370.7 327.5,370.6 326.5,370.9 325.5,371.1 324.5,371.3 323.5,371.5 322.5,371.3 321.5,371.6 321,371.6 320.5,371.8 319.5,371.5 318.5,371.5 318,371.3 317.5,371.2 317,370.8 316.5,370.6 315.5,370.9 314.5,370.9 313.5,370.6 312.5,370.6 311.5,370.9 310.5,370.7 310,370.9 309.5,370.9 308.5,370.8 307.5,370.9 306.5,371.1 306,371.1 305.5,371 304.5,371.2 303.5,371.2 302.5,371.2 301.5,371.3 301,371.3 300.5,371.2 299.5,371.4 298.5,371.2 298.3,371.2 297.8,367.7 297.5,367.7 296.5,367.6 296.4,367.6 296,371.6 295.5,371.6 295,371.5 294.7,371.5 294.5,368.9 294.4,367.8 293.5,367.6 292.5,367.4 291.5,367.6 290.5,367.5 289.5,367.4 288.5,367.6 287.5,367.6 286.5,367.7 286.3,367.6 285.5,368.3 285.4,368.5 285,370.5 284.8,371.5 284.5,371.7 284,371.6 283.5,371.5 282.5,371.7 281.5,371.4 280.5,371.8 279.5,371.6 278.5,371.8 278,371.7 277.5,371.6 276.5,372 276,372.1 275.5,372.3 274.5,371.9 273.5,371.6 273,371.4 272.5,371.2 271.5,371.5 270.5,371.5 269.5,371.5 268.5,371.4 267.5,371.6 266.5,371.3 265.5,371.6 264.5,371.6 264,371.5 263.5,371.5 262.5,371.5 261.5,371.1 260.5,371.3 260,371.3 259.5,371.3 258.5,371.2 258,371.2 257.5,371.1 256.5,371.1 255.5,371.2 254.5,371.3 253.5,371.4 252.5,371.3 251.5,371.3 250.5,371.1 249.5,371.3 248.5,371.4 247.5,371.6 246.5,371.7 246,371.4 245.5,371.5 244.5,371.3 243.5,371.2 242.5,370.8 242,370.9 241.5,371 240.5,370.9 239.5,370.7 238.5,370.9 238,370.7 237.5,370.9 236.5,370.7 235.5,370.8 234.5,370.9 233.5,370.9 233,370.9 232.5,371.2 231.5,371.4 230.5,371.7 229.5,372.3 228.5,372.2 227.5,371.8 226.5,371.7 226,371.7 225.5,371.4 224.5,371.1 224,371 223.5,370.8 222.5,370.2 221.5,369.5 220.5,368.8 220,368.6 219.5,369.1 218.5,369.6 218,370.3 217.5,370.3 216.5,370.4 215.5,370.3 214.5,370.3 213.5,370.4 212.5,370.3 212,370.5 211.5,370.7 210.5,370.8 210,370.7 209.5,370.6 208.5,370.8 207.5,370.6 207,370.5 206.5,370.4 205.5,370 204.5,369.9 203.5,369.7 202.5,369.3 202,369.3 201.5,369.2 200.5,369 200,368.7 199.5,368.6 198.5,368.6 198,368.8 197.5,368.7 196.5,368.5 195.5,368.3 194.5,368.5 194,368.2 193.5,368.3 192.5,368.4 191.5,369 190.5,368.7 190,368.4 189.5,368.3 188.5,368.6 187.5,368.5 186.5,368.3 185.5,368.3 184.5,368.4 183.5,368.3 182.5,367.8 182,367.9 181.5,368.2 180.5,368.4 180,368.6 179.5,368.5 178.5,368.6 177.5,368.5 176.5,368.5 176,368.5 175.5,368.6 174.5,368.7 173.5,369.1 172.5,368.9 171.5,368.6 170.5,368.5 169.5,368.3 169,368.2 168.5,368.5 167.5,368.6 166.5,369 166,369.3 165.5,369.3 165,369.7 164.5,370.1 164,370.2 163.5,370.2 162.5,370.2 161.5,370.3 160.5,370.4 159.5,370.2 158.5,370.3 157.5,370.1 157,370.3 156.5,370.4 155.5,370.1 155,370.1 154.5,370.1 153.5,369.6 152.5,369.7 151.5,369.3 150.5,369 150,368.9 149.5,368.7 148.5,368.5 148,368.5 147.5,368.7 146.5,368.7 145.5,368.9 144.5,369 144,369.1 143.5,369.2 143,369.1 142.5,369.1 141.5,368.9 140.5,368.9 139.5,369.1 139,368.9 138.5,368.8 137.5,369.1 136.5,369.5 136,369.5 135.5,369.8 134.5,369.8 133.5,370 132.5,369.8 131.5,369.9 130.5,370.1 130,370.1 129.5,370.3 129,370.2 128.5,370.3 127.5,370.3 126.5,370.4 125.5,370.2 124.5,370 123.5,370.2 122.5,370.2 122,370.3 121.5,370.3 120.5,370.1 120,370.2 119.5,370.2 118.5,370.4 117.5,370.2 116.5,370.1 115.5,370.2 114.5,370.1 113.5,370.1 113,370.1 112.5,370 111.5,370 110.5,370.2 110,370 109.5,370.2 108.5,370.4 107.5,370.3 106.5,370.3 106,370.4 105.5,370.6 105,370.4 104.5,370.3 103.5,370.5 102.5,370.4 101.5,370.5 100.5,370.3 99.5,370.5 98.5,370.3 98,370.3 97.5,370.4 97,370.1 96.5,370 95.5,370.1 95,370.1 94.5,370.1 93.5,370.4 92.5,370.3 92,370.5 91.5,370.5 90.5,370.7 89.5,370.7 88.5,370.5 88,370.5 87.5,370.4 86.5,370.7 85.5,370.6 84.5,370.9 84,370.7 83.5,370.8 82.5,371.1 81.5,371.3Z"/></clipPath>
</defs>
<g stroke="#000" stroke-opacity="0.3" stroke-width="1" fill="none" shape-rendering="crispEdges"><line x1="105.5" y1="28" x2="105.5" y2="197"/><line x1="128.5" y1="28" x2="128.5" y2="197"/><line x1="152.5" y1="28" x2="152.5" y2="197"/><line x1="176.5" y1="28" x2="176.5" y2="197"/><line x1="199.5" y1="28" x2="199.5" y2="197"/><line x1="223.5" y1="28" x2="223.5" y2="197"/><line x1="247.5" y1="28" x2="247.5" y2="197"/><line x1="270.5" y1="28" x2="270.5" y2="197"/><line x1="294.5" y1="28" x2="294.5" y2="197"/><line x1="317.5" y1="28" x2="317.5" y2="197"/><line x1="341.5" y1="28" x2="341.5" y2="197"/><line x1="365.5" y1="28" x2="365.5" y2="197"/><line x1="388.5" y1="28" x2="388.5" y2="197"/><line x1="412.5" y1="28" x2="412.5" y2="197"/><line x1="436.5" y1="28" x2="436.5" y2="197"/><line x1="459.5" y1="28" x2="459.5" y2="197"/><line x1="483.5" y1="28" x2="483.5" y2="197"/><line x1="506.5" y1="28" x2="506.5" y2="197"/><line x1="530.5" y1="28" x2="530.5" y2="197"/><line x1="554.5" y1="28" x2="554.5" y2="197"/><line x1="577.5" y1="28" x2="577.5" y2="197"/><line x1="601.5" y1="28" x2="601.5" y2="197"/><line x1="625.5" y1="28" x2="625.5" y2="197"/><line x1="82" y1="55.5" x2="648" y2="55.5"/><line x1="82" y1="84.5" x2="648" y2="84.5"/><line x1="82" y1="112.5" x2="648" y2="112.5"/><line x1="82" y1="140.5" x2="648" y2="140.5"/><line x1="82" y1="169.5" x2="648" y2="169.5"/><rect x="81.5" y="27.5" width="567" height="170"/></g>
<g stroke="#000" stroke-opacity="0.3" stroke-width="1" fill="none" shape-rendering="crispEdges"><line x1="105.5" y1="255" x2="105.5" y2="395"/><line x1="128.5" y1="255" x2="128.5" y2="395"/><line x1="152.5" y1="255" x2="152.5" y2="395"/><line x1="176.5" y1="255" x2="176.5" y2="395"/><line x1="199.5" y1="255" x2="199.5" y2="395"/><line x1="223.5" y1="255" x2="223.5" y2="395"/><line x1="247.5" y1="255" x2="247.5" y2="395"/><line x1="270.5" y1="255" x2="270.5" y2="395"/><line x1="294.5" y1="255" x2="294.5" y2="395"/><line x1="317.5" y1="255" x2="317.5" y2="395"/><line x1="341.5" y1="255" x2="341.5" y2="395"/><line x1="365.5" y1="255" x2="365.5" y2="395"/><line x1="388.5" y1="255" x2="388.5" y2="395"/><line x1="412.5" y1="255" x2="412.5" y2="395"/><line x1="436.5" y1="255" x2="436.5" y2="395"/><line x1="459.5" y1="255" x2="459.5" y2="395"/><line x1="483.5" y1="255" x2="483.5" y2="395"/><line x1="506.5" y1="255" x2="506.5" y2="395"/><line x1="530.5" y1="255" x2="530.5" y2="395"/><line x1="554.5" y1="255" x2="554.5" y2="395"/><line x1="577.5" y1="255" x2="577.5" y2="395"/><line x1="601.5" y1="255" x2="601.5" y2="395"/><line x1="625.5" y1="255" x2="625.5" y2="395"/><line x1="82" y1="282.5" x2="648" y2="282.5"/><line x1="82" y1="310.5" x2="648" y2="310.5"/><line x1="82" y1="339.5" x2="648" y2="339.5"/><line x1="82" y1="367.5" x2="648" y2="367.5"/><rect x="81.5" y="254.5" width="567" height="141"/></g>
<g clip-path="url(#ct)"><rect x="81" y="60" width="568" height="60" fill="#fff210"/><rect x="83.1" y="60" width="1.9" height="60" fill="#9cf41c"/><rect x="88.3" y="60" width="0.6" height="60" fill="#9cf41c"/><rect x="90.8" y="60" width="0.6" height="60" fill="#9cf41c"/><rect x="92.5" y="60" width="0.6" height="60" fill="#9cf41c"/><rect x="94.8" y="60" width="0.5" height="60" fill="#9cf41c"/><rect x="102.1" y="60" width="2.5" height="60" fill="#9cf41c"/><rect x="107.9" y="60" width="1.4" height="60" fill="#9cf41c"/><rect x="110.7" y="60" width="0.7" height="60" fill="#9cf41c"/><rect x="203.3" y="60" width="0.5" height="60" fill="#9cf41c"/><rect x="227.3" y="60" width="0.5" height="60" fill="#9cf41c"/><rect x="285.5" y="60" width="9" height="60" fill="#9cf41c"/><rect x="296.5" y="60" width="1.5" height="60" fill="#9cf41c"/><rect x="465.3" y="60" width="0.5" height="60" fill="#9cf41c"/><rect x="490.3" y="60" width="0.5" height="60" fill="#9cf41c"/><rect x="627" y="60" width="0.5" height="60" fill="#9cf41c"/><rect x="635.3" y="60" width="0.5" height="60" fill="#9cf41c"/><rect x="514" y="60" width="80" height="60" fill="#ff9c10"/><rect x="642" y="60" width="4.6" height="60" fill="#ff9c10"/><rect x="549.2" y="60" width="0.6" height="60" fill="#ffc010"/><rect x="569.3" y="60" width="0.4" height="60" fill="#ffb010"/><rect x="589.2" y="60" width="0.6" height="60" fill="#ffd810"/><rect x="643.9" y="60" width="1" height="60" fill="#ffc010"/><rect x="630.3" y="60" width="0.5" height="60" fill="#d8f020"/><rect x="632.4" y="60" width="0.5" height="60" fill="#d8f020"/><rect x="637.3" y="60" width="0.5" height="60" fill="#d8f020"/><rect x="180.3" y="60" width="0.4" height="60" fill="#d8f020"/><rect x="250.3" y="60" width="0.4" height="60" fill="#d8f020"/></g>
<path d="M81.5,83.3 82.5,83.6 83.5,83.3 84,83.3 84.5,83.5 85.5,83.2 86.5,83.1 87.5,82.8 88,83 88.5,83 89.5,83.1 90.5,83.2 91.5,82.9 92,83 92.5,82.7 93.5,82.8 94.5,82.1 95,82.1 95.5,82.2 96.5,81.4 97,81.5 97.5,81.8 98,81.5 98.5,81.5 99.5,81.7 100.5,81.3 101.5,81.5 102.5,81.6 103.5,81.6 104.5,81.5 105,81.5 105.5,81.5 106,81.5 106.5,81.5 107.5,81.4 108.5,81.7 109.5,81.7 110,81.5 110.5,81.5 111.5,81.4 112.5,81.5 113,81.5 113.5,81.6 114.5,81.4 115.5,81.5 116.5,81.6 117.5,81.5 118.5,81.7 119.5,81.3 120,81.5 120.5,81.5 121.5,81.5 122,81.5 122.5,81.5 123.5,81.3 124.5,81 125.5,80.9 126.5,81.2 127.5,81 128.5,81 129,80.8 129.5,80.8 130,80.6 130.5,80.4 131.5,80.4 132.5,80 133.5,80.2 134.5,80 135.5,79.8 136,79.5 136.5,79.4 137.5,78.4 138.5,78 139,77.8 139.5,77.9 140.5,77.7 141.5,77.4 142.5,77.4 143,77.5 143.5,77.3 144,77.4 144.5,77.3 145.5,77.2 146.5,77.3 147.5,77.2 148,77 148.5,77.3 149.5,78.1 150,78.2 150.5,78.5 151.5,78.8 152.5,79.2 153.5,79.1 154.5,79.9 155,79.8 155.5,79.8 156.5,80 157,79.9 157.5,79.7 158.5,80 159.5,79.8 160.5,80 161.5,80.3 162.5,80.1 163.5,80.2 164,80.2 164.5,80 165,79.3 165.5,78.6 166,78.5 166.5,78.1 167.5,77.3 168.5,76.9 169,76.5 169.5,76.9 170.5,77.4 171.5,77.4 172.5,77.9 173.5,78.6 174.5,78 175.5,77.7 176,77.7 176.5,77.3 177.5,77.8 178.5,78 179.5,77.7 180,78 180.5,77.9 181.5,77.4 182,76.8 182.5,76.8 183.5,77.6 184.5,78 185.5,77.7 186.5,77.9 187.5,78.1 188.5,78.3 189.5,78 190,78.2 190.5,78.4 191.5,78.2 192.5,77.9 193.5,77.9 194,78.1 194.5,78.3 195.5,77.8 196.5,77.8 197.5,77.9 198,78 198.5,78 199.5,78.3 200,78.8 200.5,79 201.5,79.3 202,79.5 202.5,79.4 203.5,79.7 204.5,80 205.5,80.1 206.5,80.1 207,80.5 207.5,80.9 208.5,81.4 209.5,81.6 210,81.8 210.5,82 211.5,82 212,82 212.5,81.8 213.5,82 214.5,82.1 215.5,82.1 216.5,82.6 217.5,82.2 218,82.5 218.5,82 219.5,81.7 220,81.5 220.5,81.4 221.5,81.9 222.5,82.1 223.5,82.3 224,82.5 224.5,82.4 225.5,82.7 226,83 226.5,82.9 227.5,82.8 228.5,83.2 229.5,83.1 230.5,82.7 231.5,82.8 232.5,82.7 233,82.8 233.5,82.7 234.5,82.8 235.5,83 236.5,82.7 237.5,82.9 238,82.8 238.5,82.9 239.5,82.6 240.5,82.9 241.5,83 242,82.8 242.5,82.8 243.5,83.2 244.5,83.4 245.5,83.5 246,83.5 246.5,83.7 247.5,83.7 248.5,83.3 249.5,83.3 250.5,83 251.5,83.5 252.5,83.3 253.5,83.1 254.5,83.2 255.5,82.8 256.5,82.8 257.5,82.7 258,82.8 258.5,82.6 259.5,83.2 260,83 260.5,83.1 261.5,83 262.5,83.4 263.5,83.6 264,83.5 264.5,83.4 265.5,83.7 266.5,83.3 267.5,83.7 268.5,83.5 269.5,83.4 270.5,83.5 271.5,83.6 272.5,83.4 273,83.5 273.5,83.5 274.5,83.7 275.5,83.7 276,83.5 276.5,83.5 277.5,83.3 278,83.3 278.5,83.3 279.5,83.2 280.5,83.3 281.5,82.8 282.5,83 283.5,82.7 284,82.8 284.5,82.8 284.8,82.6 285,82.5 285.4,82.5 285.5,82.4 286.3,82.5 286.5,82.3 287.5,82.2 288.5,82.6 289.5,82.4 290.5,82.4 291.5,82.7 292.5,82.4 293.5,82.7 294.4,82.5 294.5,82.4 294.7,82.5 295,82.5 295.5,82.8 296,82.6 296.4,82.6 296.5,82.5 297.5,82.9 297.8,82.7 298.3,82.8 298.5,82.6 299.5,83.1 300.5,83 301,83 301.5,83.2 302.5,82.9 303.5,83.1 304.5,82.9 305.5,82.7 306,82.9 306.5,82.7 307.5,82.7 308.5,82.6 309.5,82.6 310,82.8 310.5,82.6 311.5,82.9 312.5,82.8 313.5,82.9 314.5,83.3 315.5,83.5 316.5,83.4 317,83.4 317.5,83.7 318,83.5 318.5,83.4 319.5,83.5 320.5,83.7 321,83.4 321.5,83.5 322.5,83.3 323.5,83.5 324.5,83.5 325.5,83.5 326.5,83.4 327.5,83 328,83.2 328.5,83.2 329.5,83.2 330,83.2 330.5,83.1 331.5,83.3 332.5,83.1 333.5,83.4 334.5,83 335.5,83.2 336,83.2 336.5,83 337.5,83.4 338.5,83.1 339.5,83.4 340.5,83.2 341,83.2 341.5,82.8 342,82.1 342.5,81.7 343.5,82.4 344,83.2 344.5,83 345.5,83.1 346.5,83.5 347,83.2 347.5,83.3 348.5,83.3 349.5,83 350,83.2 350.5,83.4 351.5,83.1 352.5,83.3 353,83.3 353.5,83.5 354.5,83.1 355.5,83.4 356.5,83.6 357.5,83.6 358.5,83.3 359,83.5 359.5,83 360.5,82.5 361,81.9 361.5,81.3 362.5,81.8 363.5,82 364.5,82 365,82 365.5,81.9 366,82 366.5,81.8 367.5,82 368.5,81.9 369.5,81.9 370,82 370.5,81.9 371.5,81.7 372.5,82 373.5,81.9 374,82 374.5,82.1 375.5,81.5 376.5,81.6 377.5,81.4 378.5,81 379.5,81 380.5,81 381.5,80.5 382,80.5 382.5,80.8 383,80.7 383.5,81.1 384.5,81.1 385.5,81.3 386.5,81.6 387.5,81.6 388,81.8 388.5,75.7 388.7,73.5 389,73.5 389.5,73.4 390,73.5 390.5,73.7 391.2,83 391.5,83 392.5,83 393.5,83.1 394,83.2 394.5,83 395.5,82.8 396.5,82.2 397.5,81.2 398,81.1 398.5,80.8 399,80.5 399.5,80.6 400.5,80.2 401,79.8 401.5,79.4 402.5,79.2 403,79.1 403.5,79 404.5,78.3 405.5,78.3 406,78 406.5,77.8 407.5,76.9 408.5,76 409.5,75.1 410.5,73.7 411,73.5 411.5,73.6 412,73.9 412.2,74 412.5,76.8 412.8,79 413.5,78.9 414,79 414.5,76.1 414.8,74 415,74.1 415.5,74.1 416.5,74.6 417.5,74.9 418,75.2 418.5,74.7 419.5,74.2 420,73.9 420.5,73.7 421.5,72.6 422.5,72 423,71.8 423.5,71.6 424.5,71.6 425.5,71.7 426.5,71.9 427.5,72.7 428.5,74 429.5,74.8 430.5,75.6 431.5,76.7 432,77 432.5,76.9 433.5,76.7 434,76.7 434.5,76.9 435,76.5 435.5,76.9 436,76.9 436.5,77.1 437.2,77.4 437.5,77.3 438.5,77.8 439,78.1 439.5,78.2 440,78.5 440.5,78.9 441.5,79.5 442.5,79.8 443.5,80.5 444,81 444.5,80.8 445.5,80.9 446.5,81.4 447.5,81.4 448,81.2 448.5,81.1 449.5,81.6 450.5,81.4 451,81.4 451.5,81.5 452,81.5 452.5,81.6 453.5,81.8 454.5,81.9 455.5,82.2 456.5,81.9 457.5,82.3 458,82.4 458.5,82.2 459,82.5 459.5,82.6 460,82.5 460.5,82.8 461.5,82.5 462,82.6 462.5,82.8 463.5,82.3 464.5,82.8 465.5,82.4 466.5,82.6 467.5,82.7 468.5,82.7 469,82.7 469.5,82.6 470.5,82.6 471.5,83 472.5,83 473.5,82.8 474.5,83 475,82.8 475.5,82.7 476.5,82.6 477.5,82.9 478.5,82.7 479.5,82.5 480.5,83.1 481.5,83.1 482,82.8 482.5,82.9 483.5,82.9 484.5,83 485,82.8 485.5,82.5 486,82.2 486.5,81.7 487,81.5 487.5,81.3 488.5,81.1 489.5,81.1 490.5,81.3 491.5,80.9 492.5,81.1 493.5,80.9 494.5,80.8 495.5,80.8 496,80.5 496.5,80.6 497.5,81.5 498.5,82 499,82 499.5,82 500.5,81.3 501.5,81 502,81.1 502.5,80.8 503.5,80.6 504,80.5 504.5,80.7 505.5,81 506,81.5 506.5,80.5 507.5,79.2 508,78.8 508.5,79.5 509.5,80.7 510,81.5 510.5,80.8 511.5,80.1 512,79.5 512.5,79.8 513.5,81 514,81.5 514.5,81.9 515,82.5 515.5,82.5 516.5,81.9 517.5,82 518.5,81.4 519.5,81 520,81.1 520.5,81.1 521.5,80.9 522,80.5 522.5,80.7 523,80.6 523.5,80.6 524.5,80.8 525,80.9 525.5,80.8 526,81 526.5,81.2 527,81.1 527.5,81.2 528.5,81.3 529.5,81.3 530,81.5 530.5,81.3 531,80.9 531.5,80.5 532.1,80.3 532.5,79.8 532.9,79.9 533,79.8 533.5,79.9 534.5,80.7 535,81 535.5,80.8 536.5,79.5 537,79.3 537.5,79.6 538.5,80.1 539.5,80.6 540,81 540.5,81.1 541.5,80.8 542,81 542.5,81.2 543.5,81.2 544.5,80.7 545,81 545.5,80.7 546.5,81.1 547.5,81.1 548,81 548.5,81.1 549,81 549.5,81.1 550,81 550.5,81.1 551.5,80.6 552.5,80.6 553.5,80.7 554,80.5 554.1,80.5 554.5,80.5 555.5,80.3 555.9,80.1 556.5,80 557.5,80.1 558.5,80.4 559.5,80.8 560,81 560.5,81.1 561.5,80.8 562.5,80.9 563.5,81.4 564,81.2 564.5,81.1 565.5,81.2 566.5,81.5 567.5,81.4 568,81.4 568.5,81.4 569.5,81.7 570,81.5 570.5,81.9 571.5,81.9 572.5,81.9 573,82.2 573.5,82.1 574,82.5 574.5,82.5 575.5,82.3 576,82.4 576.5,82.5 577.5,82.2 578.5,82.1 579.5,82 580.5,82.3 581,82.2 581.5,82.1 582,82 582.5,82.1 583.5,81.4 584,81.5 584.5,81.5 585.5,81.4 586.5,81.5 587.5,81.5 588,81.5 588.5,81.6 589.5,82.1 590,82.4 590.5,82.4 591,82.8 591.5,82.7 592.5,83 593.5,82.9 594,82.7 594.5,82.5 595.5,82.8 596.5,82.7 597.5,82.3 598.5,82.6 599,82.5 599.5,82.7 600,82.5 600.5,82.6 601.5,82.2 602,82 602.5,81.8 603.5,81.7 604.5,81.4 605,81.6 605.5,81.3 606.5,81.4 607.5,81.2 608.5,81.2 609,81 609.5,80.5 610,80.4 610.5,79.9 611.5,79.5 612.5,79.1 613,78.8 613.5,78.8 614.5,79.5 615.5,80.4 616,81 616.5,80.8 617.5,80.9 618.5,81.2 619.5,80.9 620,81 620.5,80.8 621.5,81 622,81 622.5,80.8 623.5,80.8 624.5,80.8 625,80.8 625.5,80.5 626.5,80.6 627,80.6 627.5,80.4 628,80.5 628.5,80.5 629.5,80.9 630.5,81.1 631.5,81.4 632.5,81.7 633.5,82 634,82 634.5,82.2 635.5,82.3 636.5,82.1 637.5,82.4 638.5,82.3 639.5,82.2 640,82.4 640.5,82.6 641.5,82.5 642,82.5 642.5,82.3 643.5,81.5 644,81.5 644.5,81.3 645,81 645.5,81 646.5,81.4 647.5,82.1 648.5,82.7" fill="none" stroke="#000" stroke-width="1.1" stroke-linejoin="round"/>
<path d="M81.5,92.7 82.5,92 83.5,91.7 84,91.5 84.5,91.7 85.5,91.5 86.5,91.7 87.5,91.4 88,91.5 88.5,91.4 89.5,91.6 90.5,91.7 91.5,91.5 92,91.5 92.5,91.3 93.5,91.5 94.5,91.5 95,91.5 95.5,91.5 96.5,92.1 97,92.2 97.5,92.4 98,92.5 98.5,92.5 99.5,92.8 100.5,92.6 101.5,92.8 102.5,92.6 103.5,92.8 104.5,92.6 105,92.8 105.5,93 106,92.8 106.5,92.4 107.5,92.6 108.5,92.5 109.5,92.3 110,92 110.5,92.3 111.5,92 112.5,91.9 113,92.1 113.5,92 114.5,92.2 115.5,92.4 116.5,91.9 117.5,92.4 118.5,92.4 119.5,92.4 120,92.3 120.5,92.1 121.5,92.5 122,92.4 122.5,92.4 123.5,92.5 124.5,92.4 125.5,93 126.5,92.9 127.5,93.1 128.5,93.1 129,92.9 129.5,93.2 130,93 130.5,93.1 131.5,92.9 132.5,92.9 133.5,93.2 134.5,93 135.5,93.2 136,93 136.5,93 137.5,93.1 138.5,93.1 139,93.5 139.5,93.7 140.5,93.5 141.5,93.8 142.5,94.2 143,94 143.5,94.4 144,94.2 144.5,94.1 145.5,94 146.5,93.5 147.5,93.5 148,93.4 148.5,93.1 149.5,92.8 150,93 150.5,92.9 151.5,93.1 152.5,93.6 153.5,93.6 154.5,93.8 155,93.9 155.5,93.8 156.5,94.1 157,94.2 157.5,94 158.5,94 159.5,94.1 160.5,94.2 161.5,93.7 162.5,93.7 163.5,93.7 164,93.6 164.5,93.6 165,93.5 165.5,93.3 166,93.4 166.5,93.2 167.5,93.4 168.5,93.5 169,93.2 169.5,93.1 170.5,93 171.5,93.2 172.5,93.2 173.5,92.9 174.5,92.9 175.5,93 176,92.8 176.5,93 177.5,92.7 178.5,92.6 179.5,92.8 180,92.6 180.5,92.3 181.5,92.4 182,92.5 182.5,92.2 183.5,92.3 184.5,92.2 185.5,92.3 186.5,92 187.5,92.3 188.5,92.3 189.5,91.9 190,92 190.5,92.4 191.5,93.1 192.5,92.3 193.5,92.1 194,91.8 194.5,92.1 195.5,92.2 196.5,92.7 197.5,92.9 198,93 198.5,92.6 199.5,92.3 200,92 200.5,92.3 201.5,92.5 202,92.6 202.5,92.7 203.5,93.2 204.5,93.3 205.5,93.4 206.5,94.1 207,94 207.5,93.7 208.5,93.6 209.5,93.1 210,93.1 210.5,93 211.5,92.8 212,92.5 212.5,92.2 213.5,92.2 214.5,92 215.5,91.9 216.5,91.6 217.5,91.7 218,91.5 218.5,90.7 219.5,89.9 220,89.2 220.5,89.5 221.5,90.4 222.5,91.6 223.5,92.8 224,93 224.5,93.2 225.5,93.4 226,93.7 226.5,93.9 227.5,94.2 228.5,94.7 229.5,95 230.5,94.1 231.5,93.5 232.5,93.1 233,92.5 233.5,92.5 234.5,92.4 235.5,92 236.5,92.1 237.5,92.3 238,92 238.5,92.3 239.5,92.3 240.5,92.4 241.5,92.3 242,92.4 242.5,92.3 243.5,92.7 244.5,92.6 245.5,92.9 246,92.8 246.5,93 247.5,93 248.5,93 249.5,92.7 250.5,92.7 251.5,92.6 252.5,92.6 253.5,93 254.5,92.9 255.5,93.1 256.5,92.8 257.5,92.9 258,93 258.5,93.3 259.5,92.8 260,93 260.5,93 261.5,92.7 262.5,93 263.5,92.8 264,92.9 264.5,93.2 265.5,93.1 266.5,92.7 267.5,93 268.5,92.6 269.5,93.1 270.5,92.9 271.5,92.9 272.5,92.5 273,92.8 273.5,93.1 274.5,93.6 275.5,94.4 276,94.1 276.5,93.9 277.5,93.4 278,93.5 278.5,93.8 279.5,93.4 280.5,93.8 281.5,93.5 282.5,93.9 283.5,93.7 284,93.8 284.5,93.9 284.8,93.8 285,91.9 285.4,88 285.5,87.7 286.3,86.2 286.5,86.4 287.5,86.3 288.5,86 289.5,85.8 290.5,86 291.5,86 292.5,85.7 293.5,85.9 294.4,86.5 294.5,88.8 294.7,94 295,94 295.5,93.8 296,94 296.4,86 296.5,86.2 297.5,85.8 297.8,86 298.3,93 298.5,93.1 299.5,93.1 300.5,92.9 301,92.9 301.5,92.7 302.5,92.9 303.5,92.8 304.5,92.9 305.5,92.6 306,92.8 306.5,93 307.5,92.5 308.5,92.5 309.5,92.6 310,92.3 310.5,92.2 311.5,92.2 312.5,91.8 313.5,91.6 314.5,91.9 315.5,91.6 316.5,91.3 317,91.5 317.5,92.1 318,92.5 318.5,93 319.5,92.9 320.5,93.4 321,93.2 321.5,93.2 322.5,92.6 323.5,92.8 324.5,92.5 325.5,92.1 326.5,91.8 327.5,91.7 328,91.5 328.5,91.6 329.5,91.7 330,91.6 330.5,91.5 331.5,91.8 332.5,91.6 333.5,92 334.5,91.8 335.5,91.7 336,91.8 336.5,91.8 337.5,91.9 338.5,92 339.5,92.1 340.5,91.8 341,92 341.5,92 342,92 342.5,91.1 343.5,89.8 344,89.3 344.5,89.2 345.5,88.7 346.5,88.7 347,88.3 347.5,88.1 348.5,88.5 349.5,88.6 350,88.7 350.5,88.5 351.5,88.6 352.5,88.8 353,89 353.5,88.7 354.5,88.6 355.5,88.6 356.5,88.3 357.5,88.6 358.5,88.2 359,88.2 359.5,87.7 360.5,86.6 361,85.8 361.5,85.4 362.5,85.6 363.5,86.6 364.5,87.7 365,87.1 365.5,86.7 366,86.2 366.5,86.4 367.5,87.1 368.5,88.3 369.5,88.9 370,89.2 370.5,88.7 371.5,88.3 372.5,88 373.5,87.1 374,87 374.5,86.9 375.5,86.9 376.5,87.1 377.5,87 378.5,86.9 379.5,87.1 380.5,87 381.5,86.6 382,86.8 382.5,86.8 383,86.8 383.5,87.1 384.5,87.3 385.5,87.3 386.5,87.9 387.5,87.9 388,88 388.5,94.6 388.7,97.1 389,101 389.5,101.3 390,101 390.5,95.3 391.2,87.5 391.5,87.1 392.5,87 393.5,86.5 394,86.5 394.5,87 395.5,87.2 396.5,87.9 397.5,88.8 398,89 398.5,89.7 399,90.5 399.5,91.1 400.5,92.6 401,93.5 401.5,92.7 402.5,91.7 403,91 403.5,91.7 404.5,92.7 405.5,93.3 406,94 406.5,96.3 407.5,100.5 408.5,100.4 409.5,100.6 410.5,100.4 411,100.6 411.5,100.4 412,100.7 412.2,101 412.5,101.7 412.8,101.8 413.5,103 414,103.6 414.5,104 414.8,104.7 415,105 415.5,105.5 416.5,106.3 417.5,107.1 418,106.6 418.5,106.1 419.5,105.7 420,105 420.5,105.5 421.5,107 422.5,107.8 423,108.5 423.5,107.8 424.5,106.2 425.5,102.6 426.5,99.2 427.5,100 428.5,100.6 429.5,101.1 430.5,99.9 431.5,99.2 432,98.5 432.5,98.2 433.5,97.1 434,96.5 434.5,96.9 435,97.2 435.5,97.5 436,98 436.5,95.7 437.2,92 437.5,92.7 438.5,95.9 439,97.5 439.5,96.7 440,95.5 440.5,94.5 441.5,92.7 442.5,90.7 443.5,88.5 444,87.5 444.5,87.6 445.5,88 446.5,88.6 447.5,89 448,89.5 448.5,89.3 449.5,88.5 450.5,88 451,87.5 451.5,87.4 452,87.6 452.5,87.7 453.5,87.6 454.5,88.2 455.5,88.2 456.5,88.3 457.5,88.4 458,88.5 458.5,88.9 459,89.8 459.5,90.4 460,91 460.5,90.4 461.5,88.9 462,88.5 462.5,88.8 463.5,89 464.5,89 465.5,88.8 466.5,88.9 467.5,89.1 468.5,89.6 469,89.5 469.5,89.4 470.5,89.5 471.5,89.9 472.5,89.9 473.5,90.2 474.5,89.8 475,90.1 475.5,90.3 476.5,90 477.5,90.4 478.5,90.4 479.5,90.2 480.5,90.3 481.5,90.6 482,90.5 482.5,91.1 483.5,91.1 484.5,91.8 485,91.5 485.5,90.8 486,90.5 486.5,90.5 487,90.5 487.5,90.3 488.5,90.5 489.5,90.7 490.5,90.4 491.5,90.4 492.5,90.5 493.5,90.6 494.5,90.6 495.5,90.4 496,90.5 496.5,90.8 497.5,91.1 498.5,91.1 499,91.2 499.5,91.2 500.5,91.8 501.5,92.1 502,92 502.5,92.1 503.5,91.6 504,91.8 504.5,91.9 505.5,91.7 506,91.6 506.5,91.4 507.5,91.6 508,91.4 508.5,91.4 509.5,91.1 510,91.2 510.5,91.2 511.5,91.6 512,91.6 512.5,91.5 513.5,91.7 514,92 514.5,92.2 515,92 515.5,92 516.5,91.7 517.5,91.9 518.5,91.9 519.5,91.8 520,92 520.5,92.3 521.5,93 522,93.5 522.5,92.9 523,92.5 523.5,93.1 524.5,95 525,95.5 525.5,95.4 526,94.8 526.5,94.1 527,94 527.5,94.5 528.5,95.1 529.5,96 530,96.5 530.5,101 531,106 531.5,107.3 532.1,109 532.5,103.2 532.9,97 533,96.9 533.5,96.6 534.5,96 535,95.4 535.5,94.8 536.5,94.4 537,93.8 537.5,93.7 538.5,93.4 539.5,93.3 540,93 540.5,93 541.5,92.6 542,92.5 542.5,93.1 543.5,94.4 544.5,95.4 545,96 545.5,95.3 546.5,94.9 547.5,93.9 548,93.5 548.5,93.7 549,94 549.5,100.4 550,107 550.5,107.5 551.5,108.2 552.5,109.6 553.5,111 554,95.2 554.1,92 554.5,92 555.5,92.2 555.9,92 556.5,109.1 557.5,108.1 558.5,107.1 559.5,105.6 560,105.2 560.5,104.4 561.5,103.2 562.5,102.3 563.5,101.2 564,100.5 564.5,100 565.5,98.4 566.5,97.1 567.5,95.4 568,95 568.5,95 569.5,95.6 570,96 570.5,95.3 571.5,94 572.5,92.9 573,92 573.5,92.3 574,92.3 574.5,92.7 575.5,92.9 576,93 576.5,93.1 577.5,92.9 578.5,92.4 579.5,92.4 580.5,92.4 581,92.2 581.5,92.3 582,92 582.5,91.9 583.5,92.7 584,92.8 584.5,93.1 585.5,92.4 586.5,92.3 587.5,92.1 588,91.9 588.5,91.6 589.5,91.2 590,91.2 590.5,91.5 591,91.4 591.5,91.5 592.5,92 593.5,91.8 594,92 594.5,92 595.5,92.8 596.5,93.1 597.5,93.5 598.5,94.5 599,94.5 599.5,94.6 600,94.2 600.5,94.2 601.5,93.9 602,93.7 602.5,93.4 603.5,93.5 604.5,92.8 605,92.8 605.5,93.2 606.5,92.9 607.5,93.4 608.5,93.8 609,93.8 609.5,94 610,94 610.5,93.9 611.5,93.1 612.5,92.9 613,92.5 613.5,92.7 614.5,93.8 615.5,94.5 616,94.6 616.5,95.3 617.5,96 618.5,96.2 619.5,97.3 620,97.5 620.5,97.2 621.5,95.8 622,95.5 622.5,95 623.5,93.9 624.5,92.9 625,92.5 625.5,92 626.5,91.6 627,91.5 627.5,92.8 628,94 628.5,93.8 629.5,93.9 630.5,94.2 631.5,94.2 632.5,93.8 633.5,94.1 634,94 634.5,94 635.5,93.2 636.5,93 637.5,92.5 638.5,92.1 639.5,91.5 640,91.5 640.5,91.6 641.5,92.1 642,92.2 642.5,92.5 643.5,92.8 644,93 644.5,93.1 645,92.7 645.5,92.5 646.5,92.2 647.5,91.9 648.5,91.5" fill="none" stroke="#000" stroke-width="1.1" stroke-linejoin="round"/>
<g clip-path="url(#cb)"><rect x="81" y="320" width="568" height="70" fill="#fff210"/><rect x="83.1" y="320" width="1.9" height="70" fill="#9cf41c"/><rect x="88.3" y="320" width="0.6" height="70" fill="#9cf41c"/><rect x="90.8" y="320" width="0.6" height="70" fill="#9cf41c"/><rect x="92.5" y="320" width="0.6" height="70" fill="#9cf41c"/><rect x="94.8" y="320" width="0.5" height="70" fill="#9cf41c"/><rect x="102.1" y="320" width="2.5" height="70" fill="#9cf41c"/><rect x="107.9" y="320" width="1.4" height="70" fill="#9cf41c"/><rect x="110.7" y="320" width="0.7" height="70" fill="#9cf41c"/><rect x="203.3" y="320" width="0.5" height="70" fill="#9cf41c"/><rect x="227.3" y="320" width="0.5" height="70" fill="#9cf41c"/><rect x="285.5" y="320" width="9" height="70" fill="#9cf41c"/><rect x="296.5" y="320" width="1.5" height="70" fill="#9cf41c"/><rect x="465.3" y="320" width="0.5" height="70" fill="#9cf41c"/><rect x="490.3" y="320" width="0.5" height="70" fill="#9cf41c"/><rect x="627" y="320" width="0.5" height="70" fill="#9cf41c"/><rect x="635.3" y="320" width="0.5" height="70" fill="#9cf41c"/><rect x="514" y="320" width="80" height="70" fill="#ff9c10"/><rect x="642" y="320" width="4.6" height="70" fill="#ff9c10"/><rect x="549.2" y="320" width="0.6" height="70" fill="#ffc010"/><rect x="569.3" y="320" width="0.4" height="70" fill="#ffb010"/><rect x="589.2" y="320" width="0.6" height="70" fill="#ffd810"/><rect x="643.9" y="320" width="1" height="70" fill="#ffc010"/><rect x="630.3" y="320" width="0.5" height="70" fill="#d8f020"/><rect x="632.4" y="320" width="0.5" height="70" fill="#d8f020"/><rect x="637.3" y="320" width="0.5" height="70" fill="#d8f020"/><rect x="180.3" y="320" width="0.4" height="70" fill="#d8f020"/><rect x="250.3" y="320" width="0.4" height="70" fill="#d8f020"/></g>
<path d="M81.5,358 82.5,359 83.5,359 84,359.2 84.5,359.2 85.5,359.1 86.5,358.8 87.5,358.8 88,358.9 88.5,359 89.5,358.9 90.5,358.9 91.5,358.9 92,358.9 92.5,358.8 93.5,358.7 94.5,358 95,358 95.5,358.1 96.5,356.7 97,356.8 97.5,356.8 98,356.4 98.5,356.5 99.5,356.4 100.5,356.1 101.5,356.1 102.5,356.4 103.5,356.2 104.5,356.3 105,356.2 105.5,355.9 106,356.1 106.5,356.5 107.5,356.3 108.5,356.6 109.5,356.8 110,356.9 110.5,356.7 111.5,356.8 112.5,357 113,356.8 113.5,357 114.5,356.6 115.5,356.5 116.5,357.1 117.5,356.5 118.5,356.7 119.5,356.3 120,356.6 120.5,356.8 121.5,356.3 122,356.5 122.5,356.5 123.5,356.3 124.5,356 125.5,355.4 126.5,355.6 127.5,355.3 128.5,355.3 129,355.3 129.5,355.1 130,355 130.5,354.7 131.5,355 132.5,354.5 133.5,354.4 134.5,354.5 135.5,354 136,353.9 136.5,353.9 137.5,352.8 138.5,352.3 139,351.8 139.5,351.6 140.5,351.6 141.5,351 142.5,350.6 143,350.9 143.5,350.4 144,350.6 144.5,350.6 145.5,350.7 146.5,351.3 147.5,351.1 148,351 148.5,351.6 149.5,352.6 150,352.6 150.5,353 151.5,353.2 152.5,353.1 153.5,352.9 154.5,353.5 155,353.4 155.5,353.4 156.5,353.3 157,353.1 157.5,353.2 158.5,353.4 159.5,353.1 160.5,353.2 161.5,354 162.5,353.9 163.5,354 164,354 164.5,353.8 165,353.3 165.5,352.7 166,352.5 166.5,352.4 167.5,351.3 168.5,350.7 169,350.7 169.5,351.3 170.5,351.8 171.5,351.7 172.5,352.1 173.5,353.1 174.5,352.5 175.5,352.1 176,352.3 176.5,351.7 177.5,352.5 178.5,352.8 179.5,352.3 180,352.9 180.5,352.9 181.5,352.4 182,351.8 182.5,352 183.5,352.7 184.5,353.3 185.5,352.8 186.5,353.3 187.5,353.3 188.5,353.4 189.5,353.5 190,353.6 190.5,353.4 191.5,352.5 192.5,353.1 193.5,353.1 194,353.7 194.5,353.6 195.5,353 196.5,352.5 197.5,352.5 198,352.4 198.5,352.8 199.5,353.4 200,354.2 200.5,354.2 201.5,354.1 202,354.4 202.5,354.2 203.5,353.9 204.5,354.1 205.5,354.1 206.5,353.4 207,353.9 207.5,354.6 208.5,355.2 209.5,355.8 210,356.1 210.5,356.4 211.5,356.6 212,356.9 212.5,356.9 213.5,357.2 214.5,357.5 215.5,357.6 216.5,358.4 217.5,357.9 218,358.4 218.5,358.8 219.5,359.2 220,359.7 220.5,359.3 221.5,358.9 222.5,357.9 223.5,356.9 224,356.9 224.5,356.6 225.5,356.7 226,356.7 226.5,356.4 227.5,356 228.5,355.9 229.5,355.5 230.5,356 231.5,356.7 232.5,357 233,357.7 233.5,357.6 234.5,357.8 235.5,358.4 236.5,358 237.5,358 238,358.2 238.5,358 239.5,357.6 240.5,358 241.5,358.2 242,357.8 242.5,357.9 243.5,357.9 244.5,358.2 245.5,358 246,358.1 246.5,358.2 247.5,358.1 248.5,357.8 249.5,358.1 250.5,357.7 251.5,358.2 252.5,358.1 253.5,357.5 254.5,357.7 255.5,357.1 256.5,357.4 257.5,357.2 258,357.2 258.5,356.8 259.5,357.8 260,357.5 260.5,357.5 261.5,357.7 262.5,357.8 263.5,358.2 264,358 264.5,357.6 265.5,358 266.5,358.1 267.5,358.1 268.5,358.4 269.5,357.7 270.5,358 271.5,358.1 272.5,358.2 273,358.1 273.5,357.8 274.5,357.6 275.5,356.7 276,356.9 276.5,357.1 277.5,357.3 278,357.2 278.5,356.9 279.5,357.2 280.5,357 281.5,356.7 282.5,356.5 283.5,356.4 284,356.5 284.5,356.3 284.8,356.2 285,358 285.4,361.9 285.5,362.2 286.3,363.7 286.5,363.3 287.5,363.3 288.5,364.1 289.5,364.1 290.5,363.8 291.5,364.2 292.5,364.1 293.5,364.3 294.4,363.4 294.5,361 294.7,355.9 295,355.9 295.5,356.4 296,356 296.4,364 296.5,363.8 297.5,364.5 297.8,364.1 298.3,357.2 298.5,356.9 299.5,357.4 300.5,357.5 301,357.5 301.5,357.9 302.5,357.4 303.5,357.7 304.5,357.5 305.5,357.4 306,357.5 306.5,357.1 307.5,357.6 308.5,357.5 309.5,357.4 310,357.9 310.5,357.8 311.5,358.2 312.5,358.4 313.5,358.7 314.5,358.9 315.5,359.3 316.5,359.4 317,359.3 317.5,359 318,358.4 318.5,357.8 319.5,358 320.5,357.7 321,357.6 321.5,357.7 322.5,358.1 323.5,358.1 324.5,358.5 325.5,358.8 326.5,359 327.5,358.8 328,359.2 328.5,359.1 329.5,359 330,359 330.5,358.9 331.5,358.9 332.5,358.9 333.5,358.8 334.5,358.7 335.5,358.9 336,358.8 336.5,358.7 337.5,359 338.5,358.6 339.5,358.7 340.5,358.8 341,358.6 341.5,358.2 342,357.5 342.5,358 343.5,360 344,361.3 344.5,361.2 345.5,361.8 346.5,362.1 347,362.3 347.5,362.6 348.5,362.3 349.5,361.8 350,362 350.5,362.3 351.5,361.9 352.5,361.9 353,361.7 353.5,362.1 354.5,361.9 355.5,362.2 356.5,362.7 357.5,362.4 358.5,362.5 359,362.7 359.5,362.7 360.5,363.3 361,363.5 361.5,363.3 362.5,363.6 363.5,362.7 364.5,361.7 365,362.3 365.5,362.6 366,363.2 366.5,362.8 367.5,362.3 368.5,361.1 369.5,360.5 370,360.2 370.5,360.6 371.5,360.9 372.5,361.4 373.5,362.2 374,362.4 374.5,362.6 375.5,362.1 376.5,362 377.5,361.9 378.5,361.6 379.5,361.2 380.5,361.4 381.5,361.3 382,361.1 382.5,361.4 383,361.3 383.5,361.4 384.5,361.2 385.5,361.4 386.5,361.1 387.5,361.2 388,361.2 388.5,348.6 388.7,343.8 389,339.9 389.5,339.5 390,339.9 390.5,345.8 391.2,362.9 391.5,363.3 392.5,363.4 393.5,364 394,364.1 394.5,363.4 395.5,363.1 396.5,361.8 397.5,359.9 398,359.5 398.5,358.5 399,357.4 399.5,356.9 400.5,355.1 401,353.7 401.5,354.2 402.5,354.9 403,355.5 403.5,354.7 404.5,353 405.5,352.4 406,351.4 406.5,348.9 407.5,343.8 408.5,343 409.5,342 410.5,340.7 411,340.3 411.5,340.6 412,340.7 412.2,340.5 412.5,342.5 412.8,344.6 413.5,343.3 414,342.9 414.5,339.5 414.8,336.7 415,336.5 415.5,336.1 416.5,335.7 417.5,335.2 418,336.1 418.5,336 419.5,336 420,336.3 420.5,335.7 421.5,333.1 422.5,331.7 423,330.8 423.5,331.3 424.5,332.9 425.5,336.5 426.5,340.1 427.5,340.1 428.5,340.9 429.5,341.2 430.5,343.2 431.5,344.9 432,345.9 432.5,346.2 433.5,347 434,347.6 434.5,347.4 435,346.7 435.5,346.8 436,346.3 436.5,348.9 437.2,352.8 437.5,352 438.5,349.4 439,348 439.5,348.9 440,350.4 440.5,351.9 441.5,354.3 442.5,356.5 443.5,359.4 444,360.9 444.5,360.6 445.5,360.3 446.5,360.3 447.5,359.8 448,359.2 448.5,359.3 449.5,360.5 450.5,360.8 451,361.3 451.5,361.5 452,361.3 452.5,361.3 453.5,361.6 454.5,361 455.5,361.4 456.5,361 457.5,361.4 458,361.3 458.5,360.8 459,360.2 459.5,359.5 460,358.9 460.5,359.8 461.5,361.1 462,361.5 462.5,361.4 463.5,360.8 464.5,361.2 465.5,361.1 466.5,361.1 467.5,360.9 468.5,360.5 469,360.6 469.5,360.6 470.5,360.5 471.5,360.5 472.5,360.5 473.5,360.1 474.5,360.6 475,360.1 475.5,359.8 476.5,360 477.5,359.9 478.5,359.8 479.5,359.7 480.5,360.2 481.5,359.9 482,359.7 482.5,359.2 483.5,359.2 484.5,358.6 485,358.7 485.5,359.2 486,359.1 486.5,358.6 487,358.4 487.5,358.4 488.5,358 489.5,357.9 490.5,358.3 491.5,357.8 492.5,358 493.5,357.7 494.5,357.5 495.5,357.8 496,357.4 496.5,357.2 497.5,357.8 498.5,358.3 499,358.2 499.5,358.2 500.5,356.9 501.5,356.4 502,356.5 502.5,356.2 503.5,356.4 504,356.1 504.5,356.3 505.5,356.8 506,357.3 506.5,356.6 507.5,355 508,354.8 508.5,355.5 509.5,357 510,357.7 510.5,357 511.5,355.9 512,355.3 512.5,355.7 513.5,356.7 514,356.9 514.5,357.1 515,357.9 515.5,357.9 516.5,357.6 517.5,357.5 518.5,357 519.5,356.6 520,356.5 520.5,356.2 521.5,355.3 522,354.4 522.5,355.3 523,355.5 523.5,354.9 524.5,353.2 525,352.8 525.5,352.8 526,353.7 526.5,354.5 527,354.5 527.5,354.1 528.5,353.6 529.5,352.7 530,352.4 530.5,347.8 531,342.4 531.5,340.6 532.1,338.8 532.5,344.1 532.9,350.3 533,350.3 533.5,350.7 534.5,352.2 535,353.1 535.5,353.4 536.5,352.5 537,352.9 537.5,353.3 538.5,354.1 539.5,354.7 540,355.4 540.5,355.5 541.5,355.5 542,355.9 542.5,355.5 543.5,354.2 544.5,352.7 545,352.4 545.5,352.9 546.5,353.7 547.5,354.6 548,354.9 548.5,354.8 549,354.4 549.5,348.1 550,341.4 550.5,341.1 551.5,339.8 552.5,338.4 553.5,337.1 554,352.8 554.1,355.9 554.5,355.9 555.5,355.5 555.9,355.5 556.5,338.3 557.5,339.5 558.5,340.8 559.5,342.6 560,343.2 560.5,344.2 561.5,345 562.5,346 563.5,347.7 564,348.1 564.5,348.5 565.5,350.2 566.5,351.9 567.5,353.4 568,353.8 568.5,353.8 569.5,353.5 570,352.9 570.5,354 571.5,355.3 572.5,356.5 573,357.7 573.5,357.3 574,357.6 574.5,357.3 575.5,356.8 576,356.8 576.5,356.8 577.5,356.7 578.5,357.2 579.5,357 580.5,357.3 581,357.5 581.5,357.2 582,357.4 582.5,357.6 583.5,356.1 584,356.1 584.5,355.8 585.5,356.4 586.5,356.6 587.5,356.8 588,357.1 588.5,357.4 589.5,358.3 590,358.6 590.5,358.4 591,358.8 591.5,358.6 592.5,358.4 593.5,358.5 594,358.1 594.5,357.9 595.5,357.4 596.5,357 597.5,356.3 598.5,355.6 599,355.5 599.5,355.5 600,355.7 600.5,355.9 601.5,355.8 602,355.8 602.5,355.9 603.5,355.6 604.5,356 605,356.2 605.5,355.6 606.5,355.9 607.5,355.3 608.5,354.8 609,354.7 609.5,353.9 610,353.9 610.5,353.5 611.5,353.9 612.5,353.7 613,353.7 613.5,353.5 614.5,353.1 615.5,353.3 616,353.8 616.5,353 617.5,352.4 618.5,352.5 619.5,351 620,350.9 620.5,351 621.5,352.6 622,352.9 622.5,353.2 623.5,354.3 624.5,355.3 625,355.7 625.5,356 626.5,356.4 627,356.5 627.5,355.1 628,353.9 628.5,354.1 629.5,354.4 630.5,354.4 631.5,354.7 632.5,355.4 633.5,355.4 634,355.4 634.5,355.6 635.5,356.5 636.5,356.5 637.5,357.3 638.5,357.6 639.5,358.1 640,358.3 640.5,358.4 641.5,357.8 642,357.7 642.5,357.2 643.5,356.1 644,355.9 644.5,355.6 645,355.8 645.5,355.9 646.5,356.6 647.5,357.7 648.5,358.6" fill="none" stroke="#000" stroke-width="1.1" stroke-linejoin="round"/>
<path d="M81.5,371.3 82.5,371.1 83.5,370.8 84,370.7 84.5,370.9 85.5,370.6 86.5,370.7 87.5,370.4 88,370.5 88.5,370.5 89.5,370.7 90.5,370.7 91.5,370.5 92,370.5 92.5,370.3 93.5,370.4 94.5,370.1 95,370.1 95.5,370.1 96.5,370 97,370.1 97.5,370.4 98,370.3 98.5,370.3 99.5,370.5 100.5,370.3 101.5,370.5 102.5,370.4 103.5,370.5 104.5,370.3 105,370.4 105.5,370.6 106,370.4 106.5,370.3 107.5,370.3 108.5,370.4 109.5,370.2 110,370 110.5,370.2 111.5,370 112.5,370 113,370.1 113.5,370.1 114.5,370.1 115.5,370.2 116.5,370.1 117.5,370.2 118.5,370.4 119.5,370.2 120,370.2 120.5,370.1 121.5,370.3 122,370.3 122.5,370.2 123.5,370.2 124.5,370 125.5,370.2 126.5,370.4 127.5,370.3 128.5,370.3 129,370.2 129.5,370.3 130,370.1 130.5,370.1 131.5,369.9 132.5,369.8 133.5,370 134.5,369.8 135.5,369.8 136,369.5 136.5,369.5 137.5,369.1 138.5,368.8 139,368.9 139.5,369.1 140.5,368.9 141.5,368.9 142.5,369.1 143,369.1 143.5,369.2 144,369.1 144.5,369 145.5,368.9 146.5,368.7 147.5,368.7 148,368.5 148.5,368.5 149.5,368.7 150,368.9 150.5,369 151.5,369.3 152.5,369.7 153.5,369.6 154.5,370.1 155,370.1 155.5,370.1 156.5,370.4 157,370.3 157.5,370.1 158.5,370.3 159.5,370.2 160.5,370.4 161.5,370.3 162.5,370.2 163.5,370.2 164,370.2 164.5,370.1 165,369.7 165.5,369.3 166,369.3 166.5,369 167.5,368.6 168.5,368.5 169,368.2 169.5,368.3 170.5,368.5 171.5,368.6 172.5,368.9 173.5,369.1 174.5,368.7 175.5,368.6 176,368.5 176.5,368.5 177.5,368.5 178.5,368.6 179.5,368.5 180,368.6 180.5,368.4 181.5,368.2 182,367.9 182.5,367.8 183.5,368.3 184.5,368.4 185.5,368.3 186.5,368.3 187.5,368.5 188.5,368.6 189.5,368.3 190,368.4 190.5,368.7 191.5,369 192.5,368.4 193.5,368.3 194,368.2 194.5,368.5 195.5,368.3 196.5,368.5 197.5,368.7 198,368.8 198.5,368.6 199.5,368.6 200,368.7 200.5,369 201.5,369.2 202,369.3 202.5,369.3 203.5,369.7 204.5,369.9 205.5,370 206.5,370.4 207,370.5 207.5,370.6 208.5,370.8 209.5,370.6 210,370.7 210.5,370.8 211.5,370.7 212,370.5 212.5,370.3 213.5,370.4 214.5,370.3 215.5,370.3 216.5,370.4 217.5,370.3 218,370.3 218.5,369.6 219.5,369.1 220,368.6 220.5,368.8 221.5,369.5 222.5,370.2 223.5,370.8 224,371 224.5,371.1 225.5,371.4 226,371.7 226.5,371.7 227.5,371.8 228.5,372.2 229.5,372.3 230.5,371.7 231.5,371.4 232.5,371.2 233,370.9 233.5,370.9 234.5,370.9 235.5,370.8 236.5,370.7 237.5,370.9 238,370.7 238.5,370.9 239.5,370.7 240.5,370.9 241.5,371 242,370.9 242.5,370.8 243.5,371.2 244.5,371.3 245.5,371.5 246,371.4 246.5,371.7 247.5,371.6 248.5,371.4 249.5,371.3 250.5,371.1 251.5,371.3 252.5,371.3 253.5,371.4 254.5,371.3 255.5,371.2 256.5,371.1 257.5,371.1 258,371.2 258.5,371.2 259.5,371.3 260,371.3 260.5,371.3 261.5,371.1 262.5,371.5 263.5,371.5 264,371.5 264.5,371.6 265.5,371.6 266.5,371.3 267.5,371.6 268.5,371.4 269.5,371.5 270.5,371.5 271.5,371.5 272.5,371.2 273,371.4 273.5,371.6 274.5,371.9 275.5,372.3 276,372.1 276.5,372 277.5,371.6 278,371.7 278.5,371.8 279.5,371.6 280.5,371.8 281.5,371.4 282.5,371.7 283.5,371.5 284,371.6 284.5,371.7 284.8,371.5 285,370.5 285.4,368.5 285.5,368.3 286.3,367.6 286.5,367.7 287.5,367.6 288.5,367.6 289.5,367.4 290.5,367.5 291.5,367.6 292.5,367.4 293.5,367.6 294.4,367.8 294.5,368.9 294.7,371.5 295,371.5 295.5,371.6 296,371.6 296.4,367.6 296.5,367.6 297.5,367.7 297.8,367.7 298.3,371.2 298.5,371.2 299.5,371.4 300.5,371.2 301,371.3 301.5,371.3 302.5,371.2 303.5,371.2 304.5,371.2 305.5,371 306,371.1 306.5,371.1 307.5,370.9 308.5,370.8 309.5,370.9 310,370.9 310.5,370.7 311.5,370.9 312.5,370.6 313.5,370.6 314.5,370.9 315.5,370.9 316.5,370.6 317,370.8 317.5,371.2 318,371.3 318.5,371.5 319.5,371.5 320.5,371.8 321,371.6 321.5,371.6 322.5,371.3 323.5,371.5 324.5,371.3 325.5,371.1 326.5,370.9 327.5,370.6 328,370.7 328.5,370.7 329.5,370.7 330,370.7 330.5,370.6 331.5,370.8 332.5,370.7 333.5,371 334.5,370.7 335.5,370.7 336,370.8 336.5,370.7 337.5,371 338.5,370.8 339.5,371.1 340.5,370.8 341,370.9 341.5,370.7 342,370.3 342.5,369.7 343.5,369.4 344,369.6 344.5,369.4 345.5,369.2 346.5,369.4 347,369 347.5,369 348.5,369.2 349.5,369.1 350,369.2 350.5,369.3 351.5,369.1 352.5,369.4 353,369.4 353.5,369.4 354.5,369.1 355.5,369.3 356.5,369.2 357.5,369.4 358.5,369 359,369.1 359.5,368.6 360.5,367.8 361,367.2 361.5,366.7 362.5,367 363.5,367.6 364.5,368.2 365,367.8 365.5,367.6 366,367.4 366.5,367.4 367.5,367.9 368.5,368.4 369.5,368.7 370,368.9 370.5,368.6 371.5,368.3 372.5,368.3 373.5,367.8 374,367.8 374.5,367.8 375.5,367.5 376.5,367.6 377.5,367.5 378.5,367.3 379.5,367.3 380.5,367.3 381.5,366.9 382,367 382.5,367.1 383,367.1 383.5,367.4 384.5,367.5 385.5,367.6 386.5,368 387.5,368.1 388,368.2 388.5,368.5 388.7,368.6 389,370.5 389.5,370.6 390,370.5 390.5,367.8 391.2,368.5 391.5,368.4 392.5,368.3 393.5,368.1 394,368.1 394.5,368.3 395.5,368.3 396.5,368.3 397.5,368.3 398,368.3 398.5,368.6 399,368.8 399.5,369.1 400.5,369.7 401,369.9 401.5,369.3 402.5,368.8 403,368.3 403.5,368.6 404.5,368.8 405.5,369.1 406,369.3 406.5,370.3 407.5,372 408.5,371.5 409.5,371.1 410.5,370.4 411,370.4 411.5,370.3 412,370.6 412.2,370.8 412.5,372.5 412.8,373.7 413.5,374.3 414,374.6 414.5,373.4 414.8,372.6 415,372.8 415.5,373.1 416.5,373.7 417.5,374.3 418,374.2 418.5,373.7 419.5,373.2 420,372.7 420.5,372.9 421.5,373.1 422.5,373.2 423,373.5 423.5,373 424.5,372.2 425.5,370.5 426.5,368.9 427.5,369.7 428.5,370.6 429.5,371.3 430.5,371 431.5,371.2 432,371 432.5,370.9 433.5,370.2 434,369.9 434.5,370.2 435,370.2 435.5,370.5 436,370.7 436.5,369.7 437.2,368 437.5,368.3 438.5,370.1 439,371.1 439.5,370.7 440,370.3 440.5,370 441.5,369.4 442.5,368.6 443.5,367.8 444,367.5 444.5,367.5 445.5,367.7 446.5,368.3 447.5,368.5 448,368.7 448.5,368.5 449.5,368.3 450.5,368 451,367.8 451.5,367.7 452,367.9 452.5,368 453.5,368 454.5,368.3 455.5,368.5 456.5,368.4 457.5,368.6 458,368.7 458.5,368.9 459,369.4 459.5,369.8 460,370.1 460.5,369.9 461.5,369 462,368.8 462.5,369.1 463.5,368.9 464.5,369.2 465.5,368.9 466.5,369 467.5,369.2 468.5,369.4 469,369.4 469.5,369.3 470.5,369.4 471.5,369.7 472.5,369.7 473.5,369.8 474.5,369.7 475,369.7 475.5,369.8 476.5,369.6 477.5,369.9 478.5,369.8 479.5,369.7 480.5,370 481.5,370.1 482,369.9 482.5,370.3 483.5,370.3 484.5,370.7 485,370.4 485.5,369.9 486,369.6 486.5,369.4 487,369.3 487.5,369.1 488.5,369.1 489.5,369.2 490.5,369.1 491.5,369 492.5,369.1 493.5,369 494.5,369 495.5,368.9 496,368.8 496.5,369 497.5,369.6 498.5,369.8 499,369.9 499.5,369.9 500.5,369.8 501.5,369.9 502,369.8 502.5,369.7 503.5,369.4 504,369.4 504.5,369.6 505.5,369.7 506,369.8 506.5,369.3 507.5,368.7 508,368.4 508.5,368.7 509.5,369.2 510,369.6 510.5,369.3 511.5,369.2 512,368.8 512.5,368.9 513.5,369.7 514,370 514.5,370.3 515,370.5 515.5,370.6 516.5,370.1 517.5,370.3 518.5,370 519.5,369.7 520,369.8 520.5,370 521.5,370.2 522,370.3 522.5,370.1 523,369.9 523.5,370.1 524.5,371.2 525,371.5 525.5,371.4 526,371.2 526.5,370.9 527,370.9 527.5,371.1 528.5,371.5 529.5,371.9 530,372.3 530.5,374.5 531,376.8 531.5,377.2 532.1,377.9 532.5,374.8 532.9,371.7 533,371.7 533.5,371.6 534.5,371.6 535,371.5 535.5,371.1 536.5,370.3 537,369.8 537.5,369.9 538.5,370 539.5,370.3 540,370.3 540.5,370.4 541.5,370 542,370 542.5,370.4 543.5,371.1 544.5,371.4 545,371.8 545.5,371.3 546.5,371.3 547.5,370.7 548,370.5 548.5,370.7 549,370.8 549.5,374 550,377.3 550.5,377.6 551.5,377.7 552.5,378.4 553.5,379.1 554,371.1 554.1,369.5 554.5,369.6 555.5,369.6 555.9,369.4 556.5,377.8 557.5,377.4 558.5,377 559.5,376.5 560,376.4 560.5,376 561.5,375.3 562.5,374.9 563.5,374.6 564,374.1 564.5,373.8 565.5,373.1 566.5,372.6 567.5,371.7 568,371.5 568.5,371.5 569.5,371.9 570,372 570.5,371.9 571.5,371.3 572.5,370.7 573,370.4 573.5,370.5 574,370.7 574.5,370.9 575.5,370.9 576,371 576.5,371.1 577.5,370.8 578.5,370.5 579.5,370.5 580.5,370.6 581,370.5 581.5,370.5 582,370.3 582.5,370.3 583.5,370.4 584,370.4 584.5,370.6 585.5,370.2 586.5,370.2 587.5,370.1 588,370 588.5,369.9 589.5,369.9 590,370.1 590.5,370.2 591,370.4 591.5,370.4 592.5,370.8 593.5,370.6 594,370.6 594.5,370.6 595.5,371.1 596.5,371.2 597.5,371.2 598.5,371.8 599,371.8 599.5,371.9 600,371.7 600.5,371.7 601.5,371.4 602,371.1 602.5,370.9 603.5,370.9 604.5,370.4 605,370.5 605.5,370.5 606.5,370.5 607.5,370.6 608.5,370.8 609,370.7 609.5,370.6 610,370.5 610.5,370.2 611.5,369.6 612.5,369.3 613,368.9 613.5,369 614.5,370 615.5,370.8 616,371.1 616.5,371.3 617.5,371.7 618.5,372 619.5,372.4 620,372.5 620.5,372.3 621.5,371.7 622,371.5 622.5,371.2 623.5,370.6 624.5,370.2 625,369.9 625.5,369.5 626.5,369.4 627,369.3 627.5,369.9 628,370.5 628.5,370.4 629.5,370.7 630.5,371 631.5,371.1 632.5,371.1 633.5,371.4 634,371.3 634.5,371.4 635.5,371.1 636.5,370.8 637.5,370.8 638.5,370.5 639.5,370.2 640,370.2 640.5,370.4 641.5,370.6 642,370.7 642.5,370.7 643.5,370.5 644,370.5 644.5,370.5 645,370.1 645.5,370.1 646.5,370.1 647.5,370.3 648.5,370.4" fill="none" stroke="#000" stroke-width="1.1" stroke-linejoin="round"/>
<rect x="81.5" y="234.3" width="567" height="6" fill="#fff210"/><rect x="83.1" y="234.3" width="1.9" height="6" fill="#9cf41c"/><rect x="88.3" y="234.3" width="0.6" height="6" fill="#9cf41c"/><rect x="90.8" y="234.3" width="0.6" height="6" fill="#9cf41c"/><rect x="92.5" y="234.3" width="0.6" height="6" fill="#9cf41c"/><rect x="94.8" y="234.3" width="0.5" height="6" fill="#9cf41c"/><rect x="102.1" y="234.3" width="2.5" height="6" fill="#9cf41c"/><rect x="107.9" y="234.3" width="1.4" height="6" fill="#9cf41c"/><rect x="110.7" y="234.3" width="0.7" height="6" fill="#9cf41c"/><rect x="203.3" y="234.3" width="0.5" height="6" fill="#9cf41c"/><rect x="227.3" y="234.3" width="0.5" height="6" fill="#9cf41c"/><rect x="285.5" y="234.3" width="9" height="6" fill="#9cf41c"/><rect x="296.5" y="234.3" width="1.5" height="6" fill="#9cf41c"/><rect x="465.3" y="234.3" width="0.5" height="6" fill="#9cf41c"/><rect x="490.3" y="234.3" width="0.5" height="6" fill="#9cf41c"/><rect x="627" y="234.3" width="0.5" height="6" fill="#9cf41c"/><rect x="635.3" y="234.3" width="0.5" height="6" fill="#9cf41c"/><rect x="514" y="234.3" width="80" height="6" fill="#ff9c10"/><rect x="642" y="234.3" width="4.6" height="6" fill="#ff9c10"/><rect x="549.2" y="234.3" width="0.6" height="6" fill="#ffc010"/><rect x="569.3" y="234.3" width="0.4" height="6" fill="#ffb010"/><rect x="589.2" y="234.3" width="0.6" height="6" fill="#ffd810"/><rect x="643.9" y="234.3" width="1" height="6" fill="#ffc010"/><rect x="630.3" y="234.3" width="0.5" height="6" fill="#d8f020"/><rect x="632.4" y="234.3" width="0.5" height="6" fill="#d8f020"/><rect x="637.3" y="234.3" width="0.5" height="6" fill="#d8f020"/><rect x="180.3" y="234.3" width="0.4" height="6" fill="#d8f020"/><rect x="250.3" y="234.3" width="0.4" height="6" fill="#d8f020"/><rect x="81.5" y="234.3" width="567" height="6" fill="none" stroke="#8a8a50" stroke-width="0.8"/>
<text x="82.3" y="21.7" font-size="20.5" text-anchor="start" fill="#000" font-weight="bold" textLength="105.8" lengthAdjust="spacingAndGlyphs" xml:space="preserve">2018/08/07</text>
<text x="235.7" y="21.7" font-size="20.5" text-anchor="start" fill="#000" font-weight="bold" textLength="188" lengthAdjust="spacingAndGlyphs" xml:space="preserve">AE(10) (Real-Time)</text>
<text x="479.5" y="21.5" font-size="10.5" text-anchor="start" fill="#000" font-weight="bold" textLength="168" lengthAdjust="spacingAndGlyphs" stroke="#000" stroke-width="0.15" xml:space="preserve">WDC for Geomagnetism, Kyoto</text>
<text x="479.5" y="443.4" font-size="11.5" text-anchor="start" fill="#000" font-weight="normal" textLength="170" lengthAdjust="spacingAndGlyphs" stroke="#000" stroke-width="0.3" xml:space="preserve">[Created at 2018-08-08 03:20UT]</text>
<text x="11.1" y="69.3" font-size="20.5" text-anchor="start" fill="#000" font-weight="bold" letter-spacing="0.5" xml:space="preserve">AU</text>
<text x="10.9" y="121" font-size="20.5" text-anchor="start" fill="#000" font-weight="bold" letter-spacing="0.5" xml:space="preserve">AL</text>
<text x="10.9" y="345.6" font-size="20.5" text-anchor="start" fill="#000" font-weight="bold" letter-spacing="0.5" xml:space="preserve">AE</text>
<text x="11.1" y="388.4" font-size="20.5" text-anchor="start" fill="#000" font-weight="bold" letter-spacing="0.5" xml:space="preserve">AO</text>
<text x="75.5" y="30.8" font-size="11" text-anchor="end" fill="#000" font-weight="bold" letter-spacing="1.3" stroke="#000" stroke-width="0.25" xml:space="preserve">1000</text>
<text x="75.5" y="59.1" font-size="11" text-anchor="end" fill="#000" font-weight="bold" letter-spacing="1.3" stroke="#000" stroke-width="0.25" xml:space="preserve">500</text>
<text x="75.5" y="87.4" font-size="11" text-anchor="end" fill="#000" font-weight="bold" letter-spacing="1.3" stroke="#000" stroke-width="0.25" xml:space="preserve">0</text>
<text x="75.5" y="115.7" font-size="11" text-anchor="end" fill="#000" font-weight="bold" letter-spacing="1.3" stroke="#000" stroke-width="0.25" xml:space="preserve">- <tspan dx="-2.2">500</tspan></text>
<text x="75.5" y="144" font-size="11" text-anchor="end" fill="#000" font-weight="bold" letter-spacing="1.3" stroke="#000" stroke-width="0.25" xml:space="preserve">- <tspan dx="-2.2">1000</tspan></text>
<text x="75.5" y="172.3" font-size="11" text-anchor="end" fill="#000" font-weight="bold" letter-spacing="1.3" stroke="#000" stroke-width="0.25" xml:space="preserve">- <tspan dx="-2.2">1500</tspan></text>
<text x="75.5" y="200.6" font-size="11" text-anchor="end" fill="#000" font-weight="bold" letter-spacing="1.3" stroke="#000" stroke-width="0.25" xml:space="preserve">- <tspan dx="-2.2">2000</tspan></text>
<text x="76.6" y="42.6" font-size="11" text-anchor="end" fill="#000" font-weight="bold" letter-spacing="0.9" stroke="#000" stroke-width="0.25" xml:space="preserve">(nT)</text>
<text x="75.5" y="258" font-size="11" text-anchor="end" fill="#000" font-weight="bold" letter-spacing="1.3" stroke="#000" stroke-width="0.25" xml:space="preserve">2000</text>
<text x="75.5" y="286.2" font-size="11" text-anchor="end" fill="#000" font-weight="bold" letter-spacing="1.3" stroke="#000" stroke-width="0.25" xml:space="preserve">1500</text>
<text x="75.5" y="314.5" font-size="11" text-anchor="end" fill="#000" font-weight="bold" letter-spacing="1.3" stroke="#000" stroke-width="0.25" xml:space="preserve">1000</text>
<text x="75.5" y="342.8" font-size="11" text-anchor="end" fill="#000" font-weight="bold" letter-spacing="1.3" stroke="#000" stroke-width="0.25" xml:space="preserve">500</text>
<text x="75.5" y="371" font-size="11" text-anchor="end" fill="#000" font-weight="bold" letter-spacing="1.3" stroke="#000" stroke-width="0.25" xml:space="preserve">0</text>
<text x="75.5" y="399.2" font-size="11" text-anchor="end" fill="#000" font-weight="bold" letter-spacing="1.3" stroke="#000" stroke-width="0.25" xml:space="preserve">- <tspan dx="-2.2">500</tspan></text>
<text x="76.8" y="269.4" font-size="11" text-anchor="end" fill="#000" font-weight="bold" letter-spacing="0.9" stroke="#000" stroke-width="0.25" xml:space="preserve">(nT)</text>
<text x="81.3" y="207.6" font-size="11" text-anchor="middle" fill="#000" font-weight="bold" stroke="#000" stroke-width="0.25" xml:space="preserve">00</text>
<text x="81.3" y="406.1" font-size="11" text-anchor="middle" fill="#000" font-weight="bold" stroke="#000" stroke-width="0.25" xml:space="preserve">00</text>
<text x="223.1" y="207.6" font-size="11" text-anchor="middle" fill="#000" font-weight="bold" stroke="#000" stroke-width="0.25" xml:space="preserve">06</text>
<text x="223.1" y="406.1" font-size="11" text-anchor="middle" fill="#000" font-weight="bold" stroke="#000" stroke-width="0.25" xml:space="preserve">06</text>
<text x="364.9" y="207.6" font-size="11" text-anchor="middle" fill="#000" font-weight="bold" stroke="#000" stroke-width="0.25" xml:space="preserve">12</text>
<text x="364.9" y="406.1" font-size="11" text-anchor="middle" fill="#000" font-weight="bold" stroke="#000" stroke-width="0.25" xml:space="preserve">12</text>
<text x="506.7" y="207.6" font-size="11" text-anchor="middle" fill="#000" font-weight="bold" stroke="#000" stroke-width="0.25" xml:space="preserve">18</text>
<text x="506.7" y="406.1" font-size="11" text-anchor="middle" fill="#000" font-weight="bold" stroke="#000" stroke-width="0.25" xml:space="preserve">18</text>
<text x="648.5" y="207.6" font-size="11" text-anchor="middle" fill="#000" font-weight="bold" stroke="#000" stroke-width="0.25" xml:space="preserve">24</text>
<text x="648.5" y="406.1" font-size="11" text-anchor="middle" fill="#000" font-weight="bold" stroke="#000" stroke-width="0.25" xml:space="preserve">24</text>
<text x="365.1" y="222" font-size="14.4" text-anchor="middle" fill="#000" font-weight="bold" xml:space="preserve">U T</text>
<text x="365.1" y="420.4" font-size="14.4" text-anchor="middle" fill="#000" font-weight="bold" xml:space="preserve">U T</text>
<text x="670" y="64.7" font-size="11.5" text-anchor="end" fill="#ff1493" font-weight="bold" letter-spacing="0.5" stroke="#ff1493" stroke-width="0.3" xml:space="preserve">12</text>
<text x="670" y="263.6" font-size="11.5" text-anchor="end" fill="#ff1493" font-weight="bold" letter-spacing="0.5" stroke="#ff1493" stroke-width="0.3" xml:space="preserve">12</text>
<text x="670" y="76.8" font-size="11.5" text-anchor="end" fill="#ff2800" font-weight="bold" letter-spacing="0.5" stroke="#ff2800" stroke-width="0.3" xml:space="preserve">11</text>
<text x="670" y="275.7" font-size="11.5" text-anchor="end" fill="#ff2800" font-weight="bold" letter-spacing="0.5" stroke="#ff2800" stroke-width="0.3" xml:space="preserve">11</text>
<text x="670" y="88.8" font-size="11.5" text-anchor="end" fill="#ff9410" font-weight="bold" letter-spacing="0.5" stroke="#ff9410" stroke-width="0.3" xml:space="preserve">10</text>
<text x="670" y="287.7" font-size="11.5" text-anchor="end" fill="#ff9410" font-weight="bold" letter-spacing="0.5" stroke="#ff9410" stroke-width="0.3" xml:space="preserve">10</text>
<text x="670" y="100.9" font-size="11.5" text-anchor="end" fill="#ffee10" font-weight="bold" letter-spacing="0.5" stroke="#ffee10" stroke-width="0.3" xml:space="preserve">9</text>
<text x="670" y="299.8" font-size="11.5" text-anchor="end" fill="#ffee10" font-weight="bold" letter-spacing="0.5" stroke="#ffee10" stroke-width="0.3" xml:space="preserve">9</text>
<text x="670" y="113" font-size="11.5" text-anchor="end" fill="#96ff1e" font-weight="bold" letter-spacing="0.5" stroke="#96ff1e" stroke-width="0.3" xml:space="preserve">8</text>
<text x="670" y="311.9" font-size="11.5" text-anchor="end" fill="#96ff1e" font-weight="bold" letter-spacing="0.5" stroke="#96ff1e" stroke-width="0.3" xml:space="preserve">8</text>
<text x="670" y="125.1" font-size="11.5" text-anchor="end" fill="#14f0dc" font-weight="bold" letter-spacing="0.5" stroke="#14f0dc" stroke-width="0.3" xml:space="preserve">7</text>
<text x="670" y="324" font-size="11.5" text-anchor="end" fill="#14f0dc" font-weight="bold" letter-spacing="0.5" stroke="#14f0dc" stroke-width="0.3" xml:space="preserve">7</text>
<text x="670" y="137.1" font-size="11.5" text-anchor="end" fill="#1478ff" font-weight="bold" letter-spacing="0.5" stroke="#1478ff" stroke-width="0.3" xml:space="preserve">6</text>
<text x="670" y="336" font-size="11.5" text-anchor="end" fill="#1478ff" font-weight="bold" letter-spacing="0.5" stroke="#1478ff" stroke-width="0.3" xml:space="preserve">6</text>
<text x="670" y="149.2" font-size="11.5" text-anchor="end" fill="#3200dc" font-weight="bold" letter-spacing="0.5" stroke="#3200dc" stroke-width="0.3" xml:space="preserve">5</text>
<text x="670" y="348.1" font-size="11.5" text-anchor="end" fill="#3200dc" font-weight="bold" letter-spacing="0.5" stroke="#3200dc" stroke-width="0.3" xml:space="preserve">5</text>
<text x="670" y="161.3" font-size="11.5" text-anchor="end" fill="#ff14f0" font-weight="bold" letter-spacing="0.5" stroke="#ff14f0" stroke-width="0.3" xml:space="preserve">4</text>
<text x="670" y="360.2" font-size="11.5" text-anchor="end" fill="#ff14f0" font-weight="bold" letter-spacing="0.5" stroke="#ff14f0" stroke-width="0.3" xml:space="preserve">4</text>
<text x="670" y="173.3" font-size="11.5" text-anchor="end" fill="#000000" font-weight="bold" letter-spacing="0.5" stroke="#000000" stroke-width="0.3" xml:space="preserve">3</text>
<text x="670" y="372.2" font-size="11.5" text-anchor="end" fill="#000000" font-weight="bold" letter-spacing="0.5" stroke="#000000" stroke-width="0.3" xml:space="preserve">3</text>
<text x="670" y="185.4" font-size="11.5" text-anchor="end" fill="#606060" font-weight="bold" letter-spacing="0.5" stroke="#606060" stroke-width="0.3" xml:space="preserve">2</text>
<text x="670" y="384.3" font-size="11.5" text-anchor="end" fill="#606060" font-weight="bold" letter-spacing="0.5" stroke="#606060" stroke-width="0.3" xml:space="preserve">2</text>
<text x="670" y="197.5" font-size="11.5" text-anchor="end" fill="#c8c8c8" font-weight="bold" letter-spacing="0.5" stroke="#c8c8c8" stroke-width="0.3" xml:space="preserve">1</text>
<text x="670" y="396.4" font-size="11.5" text-anchor="end" fill="#c8c8c8" font-weight="bold" letter-spacing="0.5" stroke="#c8c8c8" stroke-width="0.3" xml:space="preserve">1</text>
</svg>
</body></html>
